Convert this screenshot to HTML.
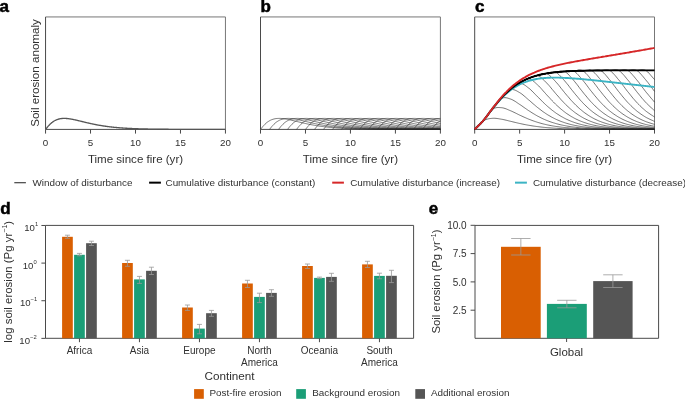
<!DOCTYPE html>
<html><head><meta charset="utf-8"><title>Figure</title>
<style>html,body{margin:0;padding:0;background:#fff;}svg{display:block;will-change:transform;}</style></head>
<body><svg width="685" height="399" viewBox="0 0 685 399">
<rect width="685" height="399" fill="#fff"/>
<path d="M45.55 16.95H225.45V129.4" fill="none" stroke="#777777" stroke-width="1"/>
<path d="M45.55 16.95V129.4H225.45" fill="none" stroke="#4a4a4a" stroke-width="1"/>
<line x1="45.55" y1="129.4" x2="45.55" y2="133.6" stroke="#4a4a4a" stroke-width="1"/>
<text x="45.55" y="145.7" font-size="9.8" text-anchor="middle" fill="#303030" font-family="Liberation Sans, sans-serif">0</text>
<line x1="90.52" y1="129.4" x2="90.52" y2="133.6" stroke="#4a4a4a" stroke-width="1"/>
<text x="90.52" y="145.7" font-size="9.8" text-anchor="middle" fill="#303030" font-family="Liberation Sans, sans-serif">5</text>
<line x1="135.50" y1="129.4" x2="135.50" y2="133.6" stroke="#4a4a4a" stroke-width="1"/>
<text x="135.50" y="145.7" font-size="9.8" text-anchor="middle" fill="#303030" font-family="Liberation Sans, sans-serif">10</text>
<line x1="180.47" y1="129.4" x2="180.47" y2="133.6" stroke="#4a4a4a" stroke-width="1"/>
<text x="180.47" y="145.7" font-size="9.8" text-anchor="middle" fill="#303030" font-family="Liberation Sans, sans-serif">15</text>
<line x1="225.45" y1="129.4" x2="225.45" y2="133.6" stroke="#4a4a4a" stroke-width="1"/>
<text x="225.45" y="145.7" font-size="9.8" text-anchor="middle" fill="#303030" font-family="Liberation Sans, sans-serif">20</text>
<text x="135.50" y="162.7" font-size="11.55" text-anchor="middle" fill="#303030" font-family="Liberation Sans, sans-serif">Time since fire (yr)</text>
<text x="-0.6" y="11.7" font-size="17" font-weight="bold" fill="#000" stroke="#000" stroke-width="0.5" font-family="Liberation Sans, sans-serif">a</text>
<path d="M45.55 129.40L46.0 128.90L46.4 128.34L46.9 127.77L47.3 127.22L47.8 126.67L48.2 126.14L48.7 125.63L49.1 125.14L49.6 124.66L50.0 124.21L50.5 123.78L50.9 123.36L51.4 122.97L51.8 122.60L52.3 122.24L52.7 121.91L53.2 121.59L53.6 121.30L54.1 121.02L54.5 120.75L55.0 120.51L55.4 120.28L55.9 120.07L56.3 119.87L56.8 119.69L57.2 119.52L57.7 119.36L58.1 119.22L58.6 119.10L59.0 118.98L59.5 118.88L59.9 118.78L60.4 118.70L60.8 118.63L61.3 118.57L61.7 118.52L62.2 118.48L62.6 118.45L63.1 118.42L63.5 118.41L64.0 118.40L64.4 118.40L64.9 118.41L65.3 118.42L65.8 118.44L66.2 118.47L66.7 118.50L67.1 118.54L67.6 118.58L68.0 118.63L68.5 118.69L68.9 118.74L69.4 118.81L69.8 118.87L70.3 118.94L70.7 119.02L71.2 119.09L71.6 119.17L72.1 119.26L72.5 119.34L73.0 119.43L73.4 119.52L73.9 119.61L74.3 119.71L74.8 119.81L75.2 119.90L75.7 120.00L76.1 120.11L76.6 120.21L77.0 120.31L77.5 120.42L77.9 120.52L78.4 120.63L78.8 120.74L79.3 120.85L79.7 120.95L80.2 121.06L80.6 121.17L81.1 121.28L81.5 121.39L82.0 121.50L82.4 121.61L82.9 121.72L83.3 121.83L83.8 121.94L84.2 122.05L84.7 122.16L85.1 122.26L85.6 122.37L86.0 122.48L86.5 122.58L86.9 122.69L87.4 122.80L87.8 122.90L88.3 123.00L88.7 123.11L89.2 123.21L89.6 123.31L90.1 123.41L90.5 123.51L91.0 123.61L91.4 123.71L91.9 123.80L92.3 123.90L92.8 124.00L93.2 124.09L93.7 124.18L94.1 124.27L94.6 124.37L95.0 124.46L95.5 124.54L95.9 124.63L96.4 124.72L96.8 124.80L97.3 124.89L97.7 124.97L98.2 125.05L98.6 125.14L99.1 125.22L99.5 125.29L100.0 125.37L100.4 125.45L100.9 125.52L101.3 125.60L101.8 125.67L102.2 125.74L102.7 125.82L103.1 125.89L103.6 125.96L104.0 126.02L104.5 126.09L104.9 126.16L105.4 126.22L105.8 126.28L106.3 126.35L106.7 126.41L107.2 126.47L107.6 126.53L108.1 126.59L108.5 126.65L109.0 126.70L109.4 126.76L109.9 126.81L110.3 126.87L110.8 126.92L111.2 126.97L111.7 127.02L112.1 127.07L112.6 127.12L113.0 127.17L113.5 127.22L113.9 127.27L114.4 127.31L114.8 127.36L115.3 127.40L115.7 127.44L116.2 127.49L116.6 127.53L117.1 127.57L117.5 127.61L118.0 127.65L118.4 127.69L118.9 127.72L119.3 127.76L119.8 127.80L120.2 127.83L120.7 127.87L121.1 127.90L121.6 127.94L122.0 127.97L122.5 128.00L122.9 128.03L123.4 128.06L123.8 128.09L124.3 128.12L124.7 128.15L125.2 128.18L125.6 128.21L126.1 128.24L126.5 128.26L127.0 128.29L127.4 128.32L127.9 128.34L128.3 128.37L128.8 128.39L129.2 128.41L129.7 128.44L130.1 128.46L130.6 128.48L131.0 128.50L131.5 128.52L131.9 128.54L132.4 128.56L132.8 128.58L133.3 128.60L133.7 128.62L134.2 128.64L134.6 128.66L135.1 128.68L135.5 128.69L135.9 128.71L136.4 128.73L136.8 128.74L137.3 128.76L137.7 128.78L138.2 128.79L138.6 128.81L139.1 128.82L139.5 128.83L140.0 128.85L140.4 128.86L140.9 128.87L141.3 128.89L141.8 128.90L142.2 128.91L142.7 128.92L143.1 128.94L143.6 128.95L144.0 128.96L144.5 128.97L144.9 128.98L145.4 128.99L145.8 129.00L146.3 129.01L146.7 129.02L147.2 129.03L147.6 129.04L148.1 129.05L148.5 129.06L149.0 129.07L149.4 129.08L149.9 129.08L150.3 129.09L150.8 129.10L151.2 129.11L151.7 129.11L152.1 129.12L152.6 129.13L153.0 129.14L153.5 129.14L153.9 129.15L154.4 129.16L154.8 129.16L155.3 129.17L155.7 129.17L156.2 129.18L156.6 129.19L157.1 129.19L157.5 129.20L158.0 129.20L158.4 129.21L158.9 129.21L159.3 129.22L159.8 129.22L160.2 129.23L160.7 129.23L161.1 129.24L161.6 129.24L162.0 129.24L162.5 129.25L162.9 129.25L163.4 129.26L163.8 129.26L164.3 129.26L164.7 129.27L165.2 129.27L165.6 129.27L166.1 129.28L166.5 129.28L167.0 129.28L167.4 129.29L167.9 129.29L168.3 129.29L168.8 129.30L169.2 129.30L169.7 129.30L170.1 129.30L170.6 129.31L171.0 129.31L171.5 129.31L171.9 129.31L172.4 129.32L172.8 129.32L173.3 129.32L173.7 129.32L174.2 129.33L174.6 129.33L175.1 129.33L175.5 129.33L176.0 129.33L176.4 129.33L176.9 129.34L177.3 129.34L177.8 129.34L178.2 129.34L178.7 129.34L179.1 129.34L179.6 129.35L180.0 129.35L180.5 129.35L180.9 129.35L181.4 129.35L181.8 129.35L182.3 129.35L182.7 129.36L183.2 129.36L183.6 129.36L184.1 129.36L184.5 129.36L185.0 129.36L185.4 129.36L185.9 129.36L186.3 129.36L186.8 129.37L187.2 129.37L187.7 129.37L188.1 129.37L188.6 129.37L189.0 129.37L189.5 129.37L189.9 129.37L190.4 129.37L190.8 129.37L191.3 129.37L191.7 129.38L192.2 129.38L192.6 129.38L193.1 129.38L193.5 129.38L194.0 129.38L194.4 129.38L194.9 129.38L195.3 129.38L195.8 129.38L196.2 129.38L196.7 129.38L197.1 129.38L197.6 129.38L198.0 129.38L198.5 129.38L198.9 129.38L199.4 129.38L199.8 129.39L200.3 129.39L200.7 129.39L201.2 129.39L201.6 129.39L202.1 129.39L202.5 129.39L203.0 129.39L203.4 129.39L203.9 129.39L204.3 129.39L204.8 129.39L205.2 129.39L205.7 129.39L206.1 129.39L206.6 129.39L207.0 129.39L207.5 129.39L207.9 129.39L208.4 129.39L208.8 129.39L209.3 129.39L209.7 129.39L210.2 129.39L210.6 129.39L211.1 129.39L211.5 129.39L212.0 129.39L212.4 129.39L212.9 129.39L213.3 129.39L213.8 129.39L214.2 129.39L214.7 129.39L215.1 129.39L215.6 129.39L216.0 129.39L216.5 129.40L216.9 129.40L217.4 129.40L217.8 129.40L218.3 129.40L218.7 129.40L219.2 129.40L219.6 129.40L220.1 129.40L220.5 129.40L221.0 129.40L221.4 129.40L221.9 129.40L222.3 129.40L222.8 129.40L223.2 129.40L223.7 129.40L224.1 129.40L224.6 129.40L225.0 129.40L225.4 129.40" fill="none" stroke="#555" stroke-width="1.35" stroke-linejoin="round"/>
<text transform="translate(38.6 73.0) rotate(-90)" x="0" y="0" font-size="11.6" text-anchor="middle" fill="#303030" font-family="Liberation Sans, sans-serif">Soil erosion anomaly</text>
<path d="M260.50 16.95H440.40V129.4" fill="none" stroke="#777777" stroke-width="1"/>
<path d="M260.50 16.95V129.4H440.40" fill="none" stroke="#4a4a4a" stroke-width="1"/>
<line x1="260.50" y1="129.4" x2="260.50" y2="133.6" stroke="#4a4a4a" stroke-width="1"/>
<text x="260.50" y="145.7" font-size="9.8" text-anchor="middle" fill="#303030" font-family="Liberation Sans, sans-serif">0</text>
<line x1="305.48" y1="129.4" x2="305.48" y2="133.6" stroke="#4a4a4a" stroke-width="1"/>
<text x="305.48" y="145.7" font-size="9.8" text-anchor="middle" fill="#303030" font-family="Liberation Sans, sans-serif">5</text>
<line x1="350.45" y1="129.4" x2="350.45" y2="133.6" stroke="#4a4a4a" stroke-width="1"/>
<text x="350.45" y="145.7" font-size="9.8" text-anchor="middle" fill="#303030" font-family="Liberation Sans, sans-serif">10</text>
<line x1="395.42" y1="129.4" x2="395.42" y2="133.6" stroke="#4a4a4a" stroke-width="1"/>
<text x="395.42" y="145.7" font-size="9.8" text-anchor="middle" fill="#303030" font-family="Liberation Sans, sans-serif">15</text>
<line x1="440.40" y1="129.4" x2="440.40" y2="133.6" stroke="#4a4a4a" stroke-width="1"/>
<text x="440.40" y="145.7" font-size="9.8" text-anchor="middle" fill="#303030" font-family="Liberation Sans, sans-serif">20</text>
<text x="350.45" y="162.7" font-size="11.55" text-anchor="middle" fill="#303030" font-family="Liberation Sans, sans-serif">Time since fire (yr)</text>
<text x="260.4" y="11.7" font-size="17" font-weight="bold" fill="#000" stroke="#000" stroke-width="0.5" font-family="Liberation Sans, sans-serif">b</text>
<path d="M260.50 129.40L261.6 128.06L262.7 126.67L263.9 125.38L265.0 124.21L266.1 123.16L267.2 122.24L268.4 121.44L269.5 120.75L270.6 120.17L271.7 119.69L272.9 119.29L274.0 118.98L275.1 118.74L276.2 118.57L277.4 118.46L278.5 118.41L279.6 118.40L280.7 118.44L281.9 118.52L283.0 118.63L284.1 118.77L285.2 118.94L286.4 119.13L287.5 119.34L288.6 119.57L289.7 119.81L290.9 120.05L292.0 120.31L293.1 120.58L294.2 120.85L295.4 121.12L296.5 121.39L297.6 121.67L298.7 121.94L299.9 122.21L301.0 122.48L302.1 122.74L303.2 123.00L304.4 123.26L305.5 123.51L306.6 123.76L307.7 124.00L308.8 124.23L310.0 124.46L311.1 124.68L312.2 124.89L313.3 125.09L314.5 125.29L315.6 125.49L316.7 125.67L317.8 125.85L319.0 126.02L320.1 126.19L321.2 126.35L322.3 126.50L323.5 126.65L324.6 126.79L325.7 126.92L326.8 127.05L328.0 127.17L329.1 127.29L330.2 127.40L331.3 127.51L332.5 127.61L333.6 127.71L334.7 127.80L335.8 127.89L337.0 127.97L338.1 128.05L339.2 128.12L340.3 128.20L341.5 128.26L342.6 128.33L343.7 128.39L344.8 128.45L346.0 128.50L347.1 128.55L348.2 128.60L349.3 128.65L350.4 128.69L351.6 128.74L352.7 128.78L353.8 128.81L354.9 128.85L356.1 128.88L357.2 128.91L358.3 128.94L359.4 128.97L360.6 129.00L361.7 129.02L362.8 129.04L363.9 129.07L365.1 129.09L366.2 129.11L367.3 129.13L368.4 129.14L369.6 129.16L370.7 129.17L371.8 129.19L372.9 129.20L374.1 129.21L375.2 129.23L376.3 129.24L377.4 129.25L378.6 129.26L379.7 129.27L380.8 129.28L381.9 129.28L383.1 129.29L384.2 129.30L385.3 129.31L386.4 129.31L387.6 129.32L388.7 129.32L389.8 129.33L390.9 129.33L392.1 129.34L393.2 129.34L394.3 129.35L395.4 129.35L396.5 129.35L397.7 129.36L398.8 129.36L399.9 129.36L401.0 129.36L402.2 129.37L403.3 129.37L404.4 129.37L405.5 129.37L406.7 129.38L407.8 129.38L408.9 129.38L410.0 129.38L411.2 129.38L412.3 129.38L413.4 129.38L414.5 129.39L415.7 129.39L416.8 129.39L417.9 129.39L419.0 129.39L420.2 129.39L421.3 129.39L422.4 129.39L423.5 129.39L424.7 129.39L425.8 129.39L426.9 129.39L428.0 129.39L429.2 129.39L430.3 129.39L431.4 129.40L432.5 129.40L433.7 129.40L434.8 129.40L435.9 129.40L437.0 129.40L438.2 129.40L439.3 129.40L440.4 129.40" fill="none" stroke="#2a2a2a" stroke-width="0.62"/>
<path d="M269.50 129.40L270.6 128.06L271.7 126.67L272.9 125.38L274.0 124.21L275.1 123.16L276.2 122.24L277.4 121.44L278.5 120.75L279.6 120.17L280.7 119.69L281.9 119.29L283.0 118.98L284.1 118.74L285.2 118.57L286.4 118.46L287.5 118.41L288.6 118.40L289.7 118.44L290.9 118.52L292.0 118.63L293.1 118.77L294.2 118.94L295.4 119.13L296.5 119.34L297.6 119.57L298.7 119.81L299.9 120.05L301.0 120.31L302.1 120.58L303.2 120.85L304.4 121.12L305.5 121.39L306.6 121.67L307.7 121.94L308.8 122.21L310.0 122.48L311.1 122.74L312.2 123.00L313.3 123.26L314.5 123.51L315.6 123.76L316.7 124.00L317.8 124.23L319.0 124.46L320.1 124.68L321.2 124.89L322.3 125.09L323.5 125.29L324.6 125.49L325.7 125.67L326.8 125.85L328.0 126.02L329.1 126.19L330.2 126.35L331.3 126.50L332.5 126.65L333.6 126.79L334.7 126.92L335.8 127.05L337.0 127.17L338.1 127.29L339.2 127.40L340.3 127.51L341.5 127.61L342.6 127.71L343.7 127.80L344.8 127.89L346.0 127.97L347.1 128.05L348.2 128.12L349.3 128.20L350.4 128.26L351.6 128.33L352.7 128.39L353.8 128.45L354.9 128.50L356.1 128.55L357.2 128.60L358.3 128.65L359.4 128.69L360.6 128.74L361.7 128.78L362.8 128.81L363.9 128.85L365.1 128.88L366.2 128.91L367.3 128.94L368.4 128.97L369.6 129.00L370.7 129.02L371.8 129.04L372.9 129.07L374.1 129.09L375.2 129.11L376.3 129.13L377.4 129.14L378.6 129.16L379.7 129.17L380.8 129.19L381.9 129.20L383.1 129.21L384.2 129.23L385.3 129.24L386.4 129.25L387.6 129.26L388.7 129.27L389.8 129.28L390.9 129.28L392.1 129.29L393.2 129.30L394.3 129.31L395.4 129.31L396.5 129.32L397.7 129.32L398.8 129.33L399.9 129.33L401.0 129.34L402.2 129.34L403.3 129.35L404.4 129.35L405.5 129.35L406.7 129.36L407.8 129.36L408.9 129.36L410.0 129.36L411.2 129.37L412.3 129.37L413.4 129.37L414.5 129.37L415.7 129.38L416.8 129.38L417.9 129.38L419.0 129.38L420.2 129.38L421.3 129.38L422.4 129.38L423.5 129.39L424.7 129.39L425.8 129.39L426.9 129.39L428.0 129.39L429.2 129.39L430.3 129.39L431.4 129.39L432.5 129.39L433.7 129.39L434.8 129.39L435.9 129.39L437.0 129.39L438.2 129.39L439.3 129.39L440.4 129.40" fill="none" stroke="#2a2a2a" stroke-width="0.62"/>
<path d="M278.49 129.40L279.6 128.06L280.7 126.67L281.9 125.38L283.0 124.21L284.1 123.16L285.2 122.24L286.4 121.44L287.5 120.75L288.6 120.17L289.7 119.69L290.9 119.29L292.0 118.98L293.1 118.74L294.2 118.57L295.4 118.46L296.5 118.41L297.6 118.40L298.7 118.44L299.9 118.52L301.0 118.63L302.1 118.77L303.2 118.94L304.4 119.13L305.5 119.34L306.6 119.57L307.7 119.81L308.8 120.05L310.0 120.31L311.1 120.58L312.2 120.85L313.3 121.12L314.5 121.39L315.6 121.67L316.7 121.94L317.8 122.21L319.0 122.48L320.1 122.74L321.2 123.00L322.3 123.26L323.5 123.51L324.6 123.76L325.7 124.00L326.8 124.23L328.0 124.46L329.1 124.68L330.2 124.89L331.3 125.09L332.5 125.29L333.6 125.49L334.7 125.67L335.8 125.85L337.0 126.02L338.1 126.19L339.2 126.35L340.3 126.50L341.5 126.65L342.6 126.79L343.7 126.92L344.8 127.05L346.0 127.17L347.1 127.29L348.2 127.40L349.3 127.51L350.4 127.61L351.6 127.71L352.7 127.80L353.8 127.89L354.9 127.97L356.1 128.05L357.2 128.12L358.3 128.20L359.4 128.26L360.6 128.33L361.7 128.39L362.8 128.45L363.9 128.50L365.1 128.55L366.2 128.60L367.3 128.65L368.4 128.69L369.6 128.74L370.7 128.78L371.8 128.81L372.9 128.85L374.1 128.88L375.2 128.91L376.3 128.94L377.4 128.97L378.6 129.00L379.7 129.02L380.8 129.04L381.9 129.07L383.1 129.09L384.2 129.11L385.3 129.13L386.4 129.14L387.6 129.16L388.7 129.17L389.8 129.19L390.9 129.20L392.1 129.21L393.2 129.23L394.3 129.24L395.4 129.25L396.5 129.26L397.7 129.27L398.8 129.28L399.9 129.28L401.0 129.29L402.2 129.30L403.3 129.31L404.4 129.31L405.5 129.32L406.7 129.32L407.8 129.33L408.9 129.33L410.0 129.34L411.2 129.34L412.3 129.35L413.4 129.35L414.5 129.35L415.7 129.36L416.8 129.36L417.9 129.36L419.0 129.36L420.2 129.37L421.3 129.37L422.4 129.37L423.5 129.37L424.7 129.38L425.8 129.38L426.9 129.38L428.0 129.38L429.2 129.38L430.3 129.38L431.4 129.38L432.5 129.39L433.7 129.39L434.8 129.39L435.9 129.39L437.0 129.39L438.2 129.39L439.3 129.39L440.4 129.39" fill="none" stroke="#2a2a2a" stroke-width="0.62"/>
<path d="M287.49 129.40L288.6 128.06L289.7 126.67L290.9 125.38L292.0 124.21L293.1 123.16L294.2 122.24L295.4 121.44L296.5 120.75L297.6 120.17L298.7 119.69L299.9 119.29L301.0 118.98L302.1 118.74L303.2 118.57L304.4 118.46L305.5 118.41L306.6 118.40L307.7 118.44L308.8 118.52L310.0 118.63L311.1 118.77L312.2 118.94L313.3 119.13L314.5 119.34L315.6 119.57L316.7 119.81L317.8 120.05L319.0 120.31L320.1 120.58L321.2 120.85L322.3 121.12L323.5 121.39L324.6 121.67L325.7 121.94L326.8 122.21L328.0 122.48L329.1 122.74L330.2 123.00L331.3 123.26L332.5 123.51L333.6 123.76L334.7 124.00L335.8 124.23L337.0 124.46L338.1 124.68L339.2 124.89L340.3 125.09L341.5 125.29L342.6 125.49L343.7 125.67L344.8 125.85L346.0 126.02L347.1 126.19L348.2 126.35L349.3 126.50L350.4 126.65L351.6 126.79L352.7 126.92L353.8 127.05L354.9 127.17L356.1 127.29L357.2 127.40L358.3 127.51L359.4 127.61L360.6 127.71L361.7 127.80L362.8 127.89L363.9 127.97L365.1 128.05L366.2 128.12L367.3 128.20L368.4 128.26L369.6 128.33L370.7 128.39L371.8 128.45L372.9 128.50L374.1 128.55L375.2 128.60L376.3 128.65L377.4 128.69L378.6 128.74L379.7 128.78L380.8 128.81L381.9 128.85L383.1 128.88L384.2 128.91L385.3 128.94L386.4 128.97L387.6 129.00L388.7 129.02L389.8 129.04L390.9 129.07L392.1 129.09L393.2 129.11L394.3 129.13L395.4 129.14L396.5 129.16L397.7 129.17L398.8 129.19L399.9 129.20L401.0 129.21L402.2 129.23L403.3 129.24L404.4 129.25L405.5 129.26L406.7 129.27L407.8 129.28L408.9 129.28L410.0 129.29L411.2 129.30L412.3 129.31L413.4 129.31L414.5 129.32L415.7 129.32L416.8 129.33L417.9 129.33L419.0 129.34L420.2 129.34L421.3 129.35L422.4 129.35L423.5 129.35L424.7 129.36L425.8 129.36L426.9 129.36L428.0 129.36L429.2 129.37L430.3 129.37L431.4 129.37L432.5 129.37L433.7 129.38L434.8 129.38L435.9 129.38L437.0 129.38L438.2 129.38L439.3 129.38L440.4 129.38" fill="none" stroke="#2a2a2a" stroke-width="0.62"/>
<path d="M296.48 129.40L297.6 128.06L298.7 126.67L299.9 125.38L301.0 124.21L302.1 123.16L303.2 122.24L304.4 121.44L305.5 120.75L306.6 120.17L307.7 119.69L308.8 119.29L310.0 118.98L311.1 118.74L312.2 118.57L313.3 118.46L314.5 118.41L315.6 118.40L316.7 118.44L317.8 118.52L319.0 118.63L320.1 118.77L321.2 118.94L322.3 119.13L323.5 119.34L324.6 119.57L325.7 119.81L326.8 120.05L328.0 120.31L329.1 120.58L330.2 120.85L331.3 121.12L332.5 121.39L333.6 121.67L334.7 121.94L335.8 122.21L337.0 122.48L338.1 122.74L339.2 123.00L340.3 123.26L341.5 123.51L342.6 123.76L343.7 124.00L344.8 124.23L346.0 124.46L347.1 124.68L348.2 124.89L349.3 125.09L350.4 125.29L351.6 125.49L352.7 125.67L353.8 125.85L354.9 126.02L356.1 126.19L357.2 126.35L358.3 126.50L359.4 126.65L360.6 126.79L361.7 126.92L362.8 127.05L363.9 127.17L365.1 127.29L366.2 127.40L367.3 127.51L368.4 127.61L369.6 127.71L370.7 127.80L371.8 127.89L372.9 127.97L374.1 128.05L375.2 128.12L376.3 128.20L377.4 128.26L378.6 128.33L379.7 128.39L380.8 128.45L381.9 128.50L383.1 128.55L384.2 128.60L385.3 128.65L386.4 128.69L387.6 128.74L388.7 128.78L389.8 128.81L390.9 128.85L392.1 128.88L393.2 128.91L394.3 128.94L395.4 128.97L396.5 129.00L397.7 129.02L398.8 129.04L399.9 129.07L401.0 129.09L402.2 129.11L403.3 129.13L404.4 129.14L405.5 129.16L406.7 129.17L407.8 129.19L408.9 129.20L410.0 129.21L411.2 129.23L412.3 129.24L413.4 129.25L414.5 129.26L415.7 129.27L416.8 129.28L417.9 129.28L419.0 129.29L420.2 129.30L421.3 129.31L422.4 129.31L423.5 129.32L424.7 129.32L425.8 129.33L426.9 129.33L428.0 129.34L429.2 129.34L430.3 129.35L431.4 129.35L432.5 129.35L433.7 129.36L434.8 129.36L435.9 129.36L437.0 129.36L438.2 129.37L439.3 129.37L440.4 129.37" fill="none" stroke="#2a2a2a" stroke-width="0.62"/>
<path d="M305.48 129.40L306.6 128.06L307.7 126.67L308.8 125.38L310.0 124.21L311.1 123.16L312.2 122.24L313.3 121.44L314.5 120.75L315.6 120.17L316.7 119.69L317.8 119.29L319.0 118.98L320.1 118.74L321.2 118.57L322.3 118.46L323.5 118.41L324.6 118.40L325.7 118.44L326.8 118.52L328.0 118.63L329.1 118.77L330.2 118.94L331.3 119.13L332.5 119.34L333.6 119.57L334.7 119.81L335.8 120.05L337.0 120.31L338.1 120.58L339.2 120.85L340.3 121.12L341.5 121.39L342.6 121.67L343.7 121.94L344.8 122.21L346.0 122.48L347.1 122.74L348.2 123.00L349.3 123.26L350.4 123.51L351.6 123.76L352.7 124.00L353.8 124.23L354.9 124.46L356.1 124.68L357.2 124.89L358.3 125.09L359.4 125.29L360.6 125.49L361.7 125.67L362.8 125.85L363.9 126.02L365.1 126.19L366.2 126.35L367.3 126.50L368.4 126.65L369.6 126.79L370.7 126.92L371.8 127.05L372.9 127.17L374.1 127.29L375.2 127.40L376.3 127.51L377.4 127.61L378.6 127.71L379.7 127.80L380.8 127.89L381.9 127.97L383.1 128.05L384.2 128.12L385.3 128.20L386.4 128.26L387.6 128.33L388.7 128.39L389.8 128.45L390.9 128.50L392.1 128.55L393.2 128.60L394.3 128.65L395.4 128.69L396.5 128.74L397.7 128.78L398.8 128.81L399.9 128.85L401.0 128.88L402.2 128.91L403.3 128.94L404.4 128.97L405.5 129.00L406.7 129.02L407.8 129.04L408.9 129.07L410.0 129.09L411.2 129.11L412.3 129.13L413.4 129.14L414.5 129.16L415.7 129.17L416.8 129.19L417.9 129.20L419.0 129.21L420.2 129.23L421.3 129.24L422.4 129.25L423.5 129.26L424.7 129.27L425.8 129.28L426.9 129.28L428.0 129.29L429.2 129.30L430.3 129.31L431.4 129.31L432.5 129.32L433.7 129.32L434.8 129.33L435.9 129.33L437.0 129.34L438.2 129.34L439.3 129.35L440.4 129.35" fill="none" stroke="#2a2a2a" stroke-width="0.62"/>
<path d="M314.47 129.40L315.6 128.06L316.7 126.67L317.8 125.38L319.0 124.21L320.1 123.16L321.2 122.24L322.3 121.44L323.5 120.75L324.6 120.17L325.7 119.69L326.8 119.29L328.0 118.98L329.1 118.74L330.2 118.57L331.3 118.46L332.5 118.41L333.6 118.40L334.7 118.44L335.8 118.52L337.0 118.63L338.1 118.77L339.2 118.94L340.3 119.13L341.5 119.34L342.6 119.57L343.7 119.81L344.8 120.05L346.0 120.31L347.1 120.58L348.2 120.85L349.3 121.12L350.4 121.39L351.6 121.67L352.7 121.94L353.8 122.21L354.9 122.48L356.1 122.74L357.2 123.00L358.3 123.26L359.4 123.51L360.6 123.76L361.7 124.00L362.8 124.23L363.9 124.46L365.1 124.68L366.2 124.89L367.3 125.09L368.4 125.29L369.6 125.49L370.7 125.67L371.8 125.85L372.9 126.02L374.1 126.19L375.2 126.35L376.3 126.50L377.4 126.65L378.6 126.79L379.7 126.92L380.8 127.05L381.9 127.17L383.1 127.29L384.2 127.40L385.3 127.51L386.4 127.61L387.6 127.71L388.7 127.80L389.8 127.89L390.9 127.97L392.1 128.05L393.2 128.12L394.3 128.20L395.4 128.26L396.5 128.33L397.7 128.39L398.8 128.45L399.9 128.50L401.0 128.55L402.2 128.60L403.3 128.65L404.4 128.69L405.5 128.74L406.7 128.78L407.8 128.81L408.9 128.85L410.0 128.88L411.2 128.91L412.3 128.94L413.4 128.97L414.5 129.00L415.7 129.02L416.8 129.04L417.9 129.07L419.0 129.09L420.2 129.11L421.3 129.13L422.4 129.14L423.5 129.16L424.7 129.17L425.8 129.19L426.9 129.20L428.0 129.21L429.2 129.23L430.3 129.24L431.4 129.25L432.5 129.26L433.7 129.27L434.8 129.28L435.9 129.28L437.0 129.29L438.2 129.30L439.3 129.31L440.4 129.31" fill="none" stroke="#2a2a2a" stroke-width="0.62"/>
<path d="M323.46 129.40L324.6 128.06L325.7 126.67L326.8 125.38L328.0 124.21L329.1 123.16L330.2 122.24L331.3 121.44L332.5 120.75L333.6 120.17L334.7 119.69L335.8 119.29L337.0 118.98L338.1 118.74L339.2 118.57L340.3 118.46L341.5 118.41L342.6 118.40L343.7 118.44L344.8 118.52L346.0 118.63L347.1 118.77L348.2 118.94L349.3 119.13L350.4 119.34L351.6 119.57L352.7 119.81L353.8 120.05L354.9 120.31L356.1 120.58L357.2 120.85L358.3 121.12L359.4 121.39L360.6 121.67L361.7 121.94L362.8 122.21L363.9 122.48L365.1 122.74L366.2 123.00L367.3 123.26L368.4 123.51L369.6 123.76L370.7 124.00L371.8 124.23L372.9 124.46L374.1 124.68L375.2 124.89L376.3 125.09L377.4 125.29L378.6 125.49L379.7 125.67L380.8 125.85L381.9 126.02L383.1 126.19L384.2 126.35L385.3 126.50L386.4 126.65L387.6 126.79L388.7 126.92L389.8 127.05L390.9 127.17L392.1 127.29L393.2 127.40L394.3 127.51L395.4 127.61L396.5 127.71L397.7 127.80L398.8 127.89L399.9 127.97L401.0 128.05L402.2 128.12L403.3 128.20L404.4 128.26L405.5 128.33L406.7 128.39L407.8 128.45L408.9 128.50L410.0 128.55L411.2 128.60L412.3 128.65L413.4 128.69L414.5 128.74L415.7 128.78L416.8 128.81L417.9 128.85L419.0 128.88L420.2 128.91L421.3 128.94L422.4 128.97L423.5 129.00L424.7 129.02L425.8 129.04L426.9 129.07L428.0 129.09L429.2 129.11L430.3 129.13L431.4 129.14L432.5 129.16L433.7 129.17L434.8 129.19L435.9 129.20L437.0 129.21L438.2 129.23L439.3 129.24L440.4 129.25" fill="none" stroke="#2a2a2a" stroke-width="0.62"/>
<path d="M332.46 129.40L333.6 128.06L334.7 126.67L335.8 125.38L337.0 124.21L338.1 123.16L339.2 122.24L340.3 121.44L341.5 120.75L342.6 120.17L343.7 119.69L344.8 119.29L346.0 118.98L347.1 118.74L348.2 118.57L349.3 118.46L350.4 118.41L351.6 118.40L352.7 118.44L353.8 118.52L354.9 118.63L356.1 118.77L357.2 118.94L358.3 119.13L359.4 119.34L360.6 119.57L361.7 119.81L362.8 120.05L363.9 120.31L365.1 120.58L366.2 120.85L367.3 121.12L368.4 121.39L369.6 121.67L370.7 121.94L371.8 122.21L372.9 122.48L374.1 122.74L375.2 123.00L376.3 123.26L377.4 123.51L378.6 123.76L379.7 124.00L380.8 124.23L381.9 124.46L383.1 124.68L384.2 124.89L385.3 125.09L386.4 125.29L387.6 125.49L388.7 125.67L389.8 125.85L390.9 126.02L392.1 126.19L393.2 126.35L394.3 126.50L395.4 126.65L396.5 126.79L397.7 126.92L398.8 127.05L399.9 127.17L401.0 127.29L402.2 127.40L403.3 127.51L404.4 127.61L405.5 127.71L406.7 127.80L407.8 127.89L408.9 127.97L410.0 128.05L411.2 128.12L412.3 128.20L413.4 128.26L414.5 128.33L415.7 128.39L416.8 128.45L417.9 128.50L419.0 128.55L420.2 128.60L421.3 128.65L422.4 128.69L423.5 128.74L424.7 128.78L425.8 128.81L426.9 128.85L428.0 128.88L429.2 128.91L430.3 128.94L431.4 128.97L432.5 129.00L433.7 129.02L434.8 129.04L435.9 129.07L437.0 129.09L438.2 129.11L439.3 129.13L440.4 129.14" fill="none" stroke="#2a2a2a" stroke-width="0.62"/>
<path d="M341.45 129.40L342.6 128.06L343.7 126.67L344.8 125.38L346.0 124.21L347.1 123.16L348.2 122.24L349.3 121.44L350.4 120.75L351.6 120.17L352.7 119.69L353.8 119.29L354.9 118.98L356.1 118.74L357.2 118.57L358.3 118.46L359.4 118.41L360.6 118.40L361.7 118.44L362.8 118.52L363.9 118.63L365.1 118.77L366.2 118.94L367.3 119.13L368.4 119.34L369.6 119.57L370.7 119.81L371.8 120.05L372.9 120.31L374.1 120.58L375.2 120.85L376.3 121.12L377.4 121.39L378.6 121.67L379.7 121.94L380.8 122.21L381.9 122.48L383.1 122.74L384.2 123.00L385.3 123.26L386.4 123.51L387.6 123.76L388.7 124.00L389.8 124.23L390.9 124.46L392.1 124.68L393.2 124.89L394.3 125.09L395.4 125.29L396.5 125.49L397.7 125.67L398.8 125.85L399.9 126.02L401.0 126.19L402.2 126.35L403.3 126.50L404.4 126.65L405.5 126.79L406.7 126.92L407.8 127.05L408.9 127.17L410.0 127.29L411.2 127.40L412.3 127.51L413.4 127.61L414.5 127.71L415.7 127.80L416.8 127.89L417.9 127.97L419.0 128.05L420.2 128.12L421.3 128.20L422.4 128.26L423.5 128.33L424.7 128.39L425.8 128.45L426.9 128.50L428.0 128.55L429.2 128.60L430.3 128.65L431.4 128.69L432.5 128.74L433.7 128.78L434.8 128.81L435.9 128.85L437.0 128.88L438.2 128.91L439.3 128.94L440.4 128.97" fill="none" stroke="#2a2a2a" stroke-width="0.62"/>
<path d="M350.45 129.40L351.6 128.06L352.7 126.67L353.8 125.38L354.9 124.21L356.1 123.16L357.2 122.24L358.3 121.44L359.4 120.75L360.6 120.17L361.7 119.69L362.8 119.29L363.9 118.98L365.1 118.74L366.2 118.57L367.3 118.46L368.4 118.41L369.6 118.40L370.7 118.44L371.8 118.52L372.9 118.63L374.1 118.77L375.2 118.94L376.3 119.13L377.4 119.34L378.6 119.57L379.7 119.81L380.8 120.05L381.9 120.31L383.1 120.58L384.2 120.85L385.3 121.12L386.4 121.39L387.6 121.67L388.7 121.94L389.8 122.21L390.9 122.48L392.1 122.74L393.2 123.00L394.3 123.26L395.4 123.51L396.5 123.76L397.7 124.00L398.8 124.23L399.9 124.46L401.0 124.68L402.2 124.89L403.3 125.09L404.4 125.29L405.5 125.49L406.7 125.67L407.8 125.85L408.9 126.02L410.0 126.19L411.2 126.35L412.3 126.50L413.4 126.65L414.5 126.79L415.7 126.92L416.8 127.05L417.9 127.17L419.0 127.29L420.2 127.40L421.3 127.51L422.4 127.61L423.5 127.71L424.7 127.80L425.8 127.89L426.9 127.97L428.0 128.05L429.2 128.12L430.3 128.20L431.4 128.26L432.5 128.33L433.7 128.39L434.8 128.45L435.9 128.50L437.0 128.55L438.2 128.60L439.3 128.65L440.4 128.69" fill="none" stroke="#2a2a2a" stroke-width="0.62"/>
<path d="M359.44 129.40L360.6 128.06L361.7 126.67L362.8 125.38L363.9 124.21L365.1 123.16L366.2 122.24L367.3 121.44L368.4 120.75L369.6 120.17L370.7 119.69L371.8 119.29L372.9 118.98L374.1 118.74L375.2 118.57L376.3 118.46L377.4 118.41L378.6 118.40L379.7 118.44L380.8 118.52L381.9 118.63L383.1 118.77L384.2 118.94L385.3 119.13L386.4 119.34L387.6 119.57L388.7 119.81L389.8 120.05L390.9 120.31L392.1 120.58L393.2 120.85L394.3 121.12L395.4 121.39L396.5 121.67L397.7 121.94L398.8 122.21L399.9 122.48L401.0 122.74L402.2 123.00L403.3 123.26L404.4 123.51L405.5 123.76L406.7 124.00L407.8 124.23L408.9 124.46L410.0 124.68L411.2 124.89L412.3 125.09L413.4 125.29L414.5 125.49L415.7 125.67L416.8 125.85L417.9 126.02L419.0 126.19L420.2 126.35L421.3 126.50L422.4 126.65L423.5 126.79L424.7 126.92L425.8 127.05L426.9 127.17L428.0 127.29L429.2 127.40L430.3 127.51L431.4 127.61L432.5 127.71L433.7 127.80L434.8 127.89L435.9 127.97L437.0 128.05L438.2 128.12L439.3 128.20L440.4 128.26" fill="none" stroke="#2a2a2a" stroke-width="0.62"/>
<path d="M368.44 129.40L369.6 128.06L370.7 126.67L371.8 125.38L372.9 124.21L374.1 123.16L375.2 122.24L376.3 121.44L377.4 120.75L378.6 120.17L379.7 119.69L380.8 119.29L381.9 118.98L383.1 118.74L384.2 118.57L385.3 118.46L386.4 118.41L387.6 118.40L388.7 118.44L389.8 118.52L390.9 118.63L392.1 118.77L393.2 118.94L394.3 119.13L395.4 119.34L396.5 119.57L397.7 119.81L398.8 120.05L399.9 120.31L401.0 120.58L402.2 120.85L403.3 121.12L404.4 121.39L405.5 121.67L406.7 121.94L407.8 122.21L408.9 122.48L410.0 122.74L411.2 123.00L412.3 123.26L413.4 123.51L414.5 123.76L415.7 124.00L416.8 124.23L417.9 124.46L419.0 124.68L420.2 124.89L421.3 125.09L422.4 125.29L423.5 125.49L424.7 125.67L425.8 125.85L426.9 126.02L428.0 126.19L429.2 126.35L430.3 126.50L431.4 126.65L432.5 126.79L433.7 126.92L434.8 127.05L435.9 127.17L437.0 127.29L438.2 127.40L439.3 127.51L440.4 127.61" fill="none" stroke="#2a2a2a" stroke-width="0.62"/>
<path d="M377.44 129.40L378.6 128.06L379.7 126.67L380.8 125.38L381.9 124.21L383.1 123.16L384.2 122.24L385.3 121.44L386.4 120.75L387.6 120.17L388.7 119.69L389.8 119.29L390.9 118.98L392.1 118.74L393.2 118.57L394.3 118.46L395.4 118.41L396.5 118.40L397.7 118.44L398.8 118.52L399.9 118.63L401.0 118.77L402.2 118.94L403.3 119.13L404.4 119.34L405.5 119.57L406.7 119.81L407.8 120.05L408.9 120.31L410.0 120.58L411.2 120.85L412.3 121.12L413.4 121.39L414.5 121.67L415.7 121.94L416.8 122.21L417.9 122.48L419.0 122.74L420.2 123.00L421.3 123.26L422.4 123.51L423.5 123.76L424.7 124.00L425.8 124.23L426.9 124.46L428.0 124.68L429.2 124.89L430.3 125.09L431.4 125.29L432.5 125.49L433.7 125.67L434.8 125.85L435.9 126.02L437.0 126.19L438.2 126.35L439.3 126.50L440.4 126.65" fill="none" stroke="#2a2a2a" stroke-width="0.62"/>
<path d="M386.43 129.40L387.6 128.06L388.7 126.67L389.8 125.38L390.9 124.21L392.1 123.16L393.2 122.24L394.3 121.44L395.4 120.75L396.5 120.17L397.7 119.69L398.8 119.29L399.9 118.98L401.0 118.74L402.2 118.57L403.3 118.46L404.4 118.41L405.5 118.40L406.7 118.44L407.8 118.52L408.9 118.63L410.0 118.77L411.2 118.94L412.3 119.13L413.4 119.34L414.5 119.57L415.7 119.81L416.8 120.05L417.9 120.31L419.0 120.58L420.2 120.85L421.3 121.12L422.4 121.39L423.5 121.67L424.7 121.94L425.8 122.21L426.9 122.48L428.0 122.74L429.2 123.00L430.3 123.26L431.4 123.51L432.5 123.76L433.7 124.00L434.8 124.23L435.9 124.46L437.0 124.68L438.2 124.89L439.3 125.09L440.4 125.29" fill="none" stroke="#2a2a2a" stroke-width="0.62"/>
<path d="M395.42 129.40L396.5 128.06L397.7 126.67L398.8 125.38L399.9 124.21L401.0 123.16L402.2 122.24L403.3 121.44L404.4 120.75L405.5 120.17L406.7 119.69L407.8 119.29L408.9 118.98L410.0 118.74L411.2 118.57L412.3 118.46L413.4 118.41L414.5 118.40L415.7 118.44L416.8 118.52L417.9 118.63L419.0 118.77L420.2 118.94L421.3 119.13L422.4 119.34L423.5 119.57L424.7 119.81L425.8 120.05L426.9 120.31L428.0 120.58L429.2 120.85L430.3 121.12L431.4 121.39L432.5 121.67L433.7 121.94L434.8 122.21L435.9 122.48L437.0 122.74L438.2 123.00L439.3 123.26L440.4 123.51" fill="none" stroke="#2a2a2a" stroke-width="0.62"/>
<path d="M404.42 129.40L405.5 128.06L406.7 126.67L407.8 125.38L408.9 124.21L410.0 123.16L411.2 122.24L412.3 121.44L413.4 120.75L414.5 120.17L415.7 119.69L416.8 119.29L417.9 118.98L419.0 118.74L420.2 118.57L421.3 118.46L422.4 118.41L423.5 118.40L424.7 118.44L425.8 118.52L426.9 118.63L428.0 118.77L429.2 118.94L430.3 119.13L431.4 119.34L432.5 119.57L433.7 119.81L434.8 120.05L435.9 120.31L437.0 120.58L438.2 120.85L439.3 121.12L440.4 121.39" fill="none" stroke="#2a2a2a" stroke-width="0.62"/>
<path d="M413.41 129.40L414.5 128.06L415.7 126.67L416.8 125.38L417.9 124.21L419.0 123.16L420.2 122.24L421.3 121.44L422.4 120.75L423.5 120.17L424.7 119.69L425.8 119.29L426.9 118.98L428.0 118.74L429.2 118.57L430.3 118.46L431.4 118.41L432.5 118.40L433.7 118.44L434.8 118.52L435.9 118.63L437.0 118.77L438.2 118.94L439.3 119.13L440.4 119.34" fill="none" stroke="#2a2a2a" stroke-width="0.62"/>
<path d="M422.41 129.40L423.5 128.06L424.7 126.67L425.8 125.38L426.9 124.21L428.0 123.16L429.2 122.24L430.3 121.44L431.4 120.75L432.5 120.17L433.7 119.69L434.8 119.29L435.9 118.98L437.0 118.74L438.2 118.57L439.3 118.46L440.4 118.41" fill="none" stroke="#2a2a2a" stroke-width="0.62"/>
<path d="M431.40 129.40L432.5 128.06L433.7 126.67L434.8 125.38L435.9 124.21L437.0 123.16L438.2 122.24L439.3 121.44L440.4 120.75" fill="none" stroke="#2a2a2a" stroke-width="0.62"/>
<path d="M474.70 16.95H654.50V129.4" fill="none" stroke="#777777" stroke-width="1"/>
<path d="M474.70 16.95V129.4H654.50" fill="none" stroke="#4a4a4a" stroke-width="1"/>
<line x1="474.70" y1="129.4" x2="474.70" y2="133.6" stroke="#4a4a4a" stroke-width="1"/>
<text x="474.70" y="145.7" font-size="9.8" text-anchor="middle" fill="#303030" font-family="Liberation Sans, sans-serif">0</text>
<line x1="519.65" y1="129.4" x2="519.65" y2="133.6" stroke="#4a4a4a" stroke-width="1"/>
<text x="519.65" y="145.7" font-size="9.8" text-anchor="middle" fill="#303030" font-family="Liberation Sans, sans-serif">5</text>
<line x1="564.60" y1="129.4" x2="564.60" y2="133.6" stroke="#4a4a4a" stroke-width="1"/>
<text x="564.60" y="145.7" font-size="9.8" text-anchor="middle" fill="#303030" font-family="Liberation Sans, sans-serif">10</text>
<line x1="609.55" y1="129.4" x2="609.55" y2="133.6" stroke="#4a4a4a" stroke-width="1"/>
<text x="609.55" y="145.7" font-size="9.8" text-anchor="middle" fill="#303030" font-family="Liberation Sans, sans-serif">15</text>
<line x1="654.50" y1="129.4" x2="654.50" y2="133.6" stroke="#4a4a4a" stroke-width="1"/>
<text x="654.50" y="145.7" font-size="9.8" text-anchor="middle" fill="#303030" font-family="Liberation Sans, sans-serif">20</text>
<text x="564.60" y="162.7" font-size="11.55" text-anchor="middle" fill="#303030" font-family="Liberation Sans, sans-serif">Time since fire (yr)</text>
<text x="474.9" y="11.7" font-size="17" font-weight="bold" fill="#000" stroke="#000" stroke-width="0.5" font-family="Liberation Sans, sans-serif">c</text>
<path d="M474.70 129.40L475.8 128.27L476.9 127.07L478.1 125.85L479.2 124.64L480.3 123.48L481.4 122.41L482.6 121.46L483.7 120.68L484.8 120.05L485.9 119.56L487.1 119.18L488.2 118.89L489.3 118.67L490.4 118.52L491.6 118.40L492.7 118.31L493.8 118.26L494.9 118.28L496.1 118.37L497.2 118.50L498.3 118.67L499.4 118.86L500.5 119.06L501.7 119.25L502.8 119.45L503.9 119.69L505.0 119.94L506.2 120.21L507.3 120.49L508.4 120.77L509.5 121.05L510.7 121.32L511.8 121.58L512.9 121.86L514.0 122.13L515.2 122.41L516.3 122.68L517.4 122.95L518.5 123.21L519.6 123.46L520.8 123.70L521.9 123.94L523.0 124.18L524.1 124.41L525.3 124.63L526.4 124.85L527.5 125.05L528.6 125.26L529.8 125.45L530.9 125.64L532.0 125.82L533.1 125.99L534.3 126.16L535.4 126.32L536.5 126.47L537.6 126.62L538.8 126.76L539.9 126.90L541.0 127.03L542.1 127.15L543.2 127.27L544.4 127.38L545.5 127.49L546.6 127.59L547.7 127.69L548.9 127.79L550.0 127.87L551.1 127.96L552.2 128.04L553.4 128.11L554.5 128.18L555.6 128.25L556.7 128.32L557.9 128.38L559.0 128.44L560.1 128.49L561.2 128.55L562.4 128.60L563.5 128.64L564.6 128.69L565.7 128.73L566.8 128.77L568.0 128.81L569.1 128.84L570.2 128.88L571.3 128.91L572.5 128.94L573.6 128.97L574.7 128.99L575.8 129.02L577.0 129.04L578.1 129.06L579.2 129.08L580.3 129.10L581.5 129.12L582.6 129.14L583.7 129.16L584.8 129.17L586.0 129.19L587.1 129.20L588.2 129.21L589.3 129.22L590.4 129.24L591.6 129.25L592.7 129.26L593.8 129.27L594.9 129.27L596.1 129.28L597.2 129.29L598.3 129.30L599.4 129.30L600.6 129.31L601.7 129.32L602.8 129.32L603.9 129.33L605.1 129.33L606.2 129.34L607.3 129.34L608.4 129.34L609.5 129.35L610.7 129.35L611.8 129.36L612.9 129.36L614.0 129.36L615.2 129.36L616.3 129.37L617.4 129.37L618.5 129.37L619.7 129.37L620.8 129.37L621.9 129.38L623.0 129.38L624.2 129.38L625.3 129.38L626.4 129.38L627.5 129.38L628.7 129.38L629.8 129.39L630.9 129.39L632.0 129.39L633.1 129.39L634.3 129.39L635.4 129.39L636.5 129.39L637.6 129.39L638.8 129.39L639.9 129.39L641.0 129.39L642.1 129.39L643.3 129.39L644.4 129.39L645.5 129.40L646.6 129.40L647.8 129.40L648.9 129.40L650.0 129.40L651.1 129.40L652.3 129.40L653.4 129.40L654.5 129.40" fill="none" stroke="#222" stroke-width="0.62"/>
<path d="M474.70 129.40L475.8 128.30L476.9 127.23L478.1 126.17L479.2 125.10L480.3 124.01L481.4 122.89L482.6 121.73L483.7 120.50L484.8 119.13L485.9 117.61L487.1 116.00L488.2 114.37L489.3 112.81L490.4 111.37L491.6 110.14L492.7 109.18L493.8 108.49L494.9 108.02L496.1 107.71L497.2 107.55L498.3 107.51L499.4 107.54L500.5 107.62L501.7 107.72L502.8 107.88L503.9 108.15L505.0 108.49L506.2 108.90L507.3 109.36L508.4 109.84L509.5 110.32L510.7 110.80L511.8 111.28L512.9 111.79L514.0 112.33L515.2 112.88L516.3 113.45L517.4 114.01L518.5 114.56L519.6 115.09L520.8 115.61L521.9 116.13L523.0 116.65L524.1 117.17L525.3 117.67L526.4 118.17L527.5 118.65L528.6 119.11L529.8 119.56L530.9 119.99L532.0 120.41L533.1 120.82L534.3 121.22L535.4 121.61L536.5 121.98L537.6 122.34L538.8 122.68L539.9 123.01L541.0 123.32L542.1 123.63L543.2 123.92L544.4 124.19L545.5 124.46L546.6 124.72L547.7 124.97L548.9 125.20L550.0 125.42L551.1 125.63L552.2 125.83L553.4 126.03L554.5 126.21L555.6 126.39L556.7 126.55L557.9 126.71L559.0 126.86L560.1 127.00L561.2 127.14L562.4 127.26L563.5 127.39L564.6 127.50L565.7 127.62L566.8 127.72L568.0 127.82L569.1 127.91L570.2 128.00L571.3 128.08L572.5 128.16L573.6 128.23L574.7 128.30L575.8 128.37L577.0 128.43L578.1 128.49L579.2 128.54L580.3 128.60L581.5 128.64L582.6 128.69L583.7 128.74L584.8 128.78L586.0 128.82L587.1 128.85L588.2 128.89L589.3 128.92L590.4 128.95L591.6 128.98L592.7 129.01L593.8 129.03L594.9 129.05L596.1 129.08L597.2 129.10L598.3 129.12L599.4 129.13L600.6 129.15L601.7 129.17L602.8 129.18L603.9 129.20L605.1 129.21L606.2 129.22L607.3 129.24L608.4 129.25L609.5 129.26L610.7 129.27L611.8 129.28L612.9 129.28L614.0 129.29L615.2 129.30L616.3 129.31L617.4 129.31L618.5 129.32L619.7 129.32L620.8 129.33L621.9 129.33L623.0 129.34L624.2 129.34L625.3 129.35L626.4 129.35L627.5 129.35L628.7 129.36L629.8 129.36L630.9 129.36L632.0 129.37L633.1 129.37L634.3 129.37L635.4 129.37L636.5 129.37L637.6 129.38L638.8 129.38L639.9 129.38L641.0 129.38L642.1 129.38L643.3 129.38L644.4 129.38L645.5 129.39L646.6 129.39L647.8 129.39L648.9 129.39L650.0 129.39L651.1 129.39L652.3 129.39L653.4 129.39L654.5 129.39" fill="none" stroke="#222" stroke-width="0.62"/>
<path d="M474.70 129.40L475.8 128.29L476.9 127.20L478.1 126.12L479.2 125.04L480.3 123.94L481.4 122.81L482.6 121.62L483.7 120.38L484.8 119.06L485.9 117.66L487.1 116.21L488.2 114.74L489.3 113.25L490.4 111.76L491.6 110.31L492.7 108.91L493.8 107.47L494.9 105.95L496.1 104.41L497.2 102.90L498.3 101.49L499.4 100.23L500.5 99.18L501.7 98.41L502.8 97.93L503.9 97.68L505.0 97.64L506.2 97.76L507.3 98.00L508.4 98.32L509.5 98.69L510.7 99.08L511.8 99.51L512.9 100.06L514.0 100.69L515.2 101.39L516.3 102.13L517.4 102.90L518.5 103.66L519.6 104.40L520.8 105.14L521.9 105.91L523.0 106.70L524.1 107.50L525.3 108.30L526.4 109.09L527.5 109.87L528.6 110.61L529.8 111.34L530.9 112.06L532.0 112.78L533.1 113.48L534.3 114.16L535.4 114.83L536.5 115.47L537.6 116.10L538.8 116.70L539.9 117.28L541.0 117.84L542.1 118.38L543.2 118.91L544.4 119.41L545.5 119.90L546.6 120.37L547.7 120.82L548.9 121.25L550.0 121.66L551.1 122.06L552.2 122.43L553.4 122.79L554.5 123.14L555.6 123.47L556.7 123.79L557.9 124.09L559.0 124.38L560.1 124.65L561.2 124.90L562.4 125.15L563.5 125.38L564.6 125.61L565.7 125.82L566.8 126.03L568.0 126.22L569.1 126.40L570.2 126.57L571.3 126.73L572.5 126.88L573.6 127.03L574.7 127.17L575.8 127.30L577.0 127.43L578.1 127.54L579.2 127.65L580.3 127.75L581.5 127.85L582.6 127.95L583.7 128.04L584.8 128.12L586.0 128.20L587.1 128.27L588.2 128.34L589.3 128.40L590.4 128.46L591.6 128.52L592.7 128.58L593.8 128.63L594.9 128.68L596.1 128.72L597.2 128.77L598.3 128.81L599.4 128.84L600.6 128.88L601.7 128.91L602.8 128.95L603.9 128.98L605.1 129.00L606.2 129.03L607.3 129.05L608.4 129.07L609.5 129.10L610.7 129.12L611.8 129.14L612.9 129.15L614.0 129.17L615.2 129.18L616.3 129.20L617.4 129.21L618.5 129.22L619.7 129.24L620.8 129.25L621.9 129.26L623.0 129.27L624.2 129.28L625.3 129.28L626.4 129.29L627.5 129.30L628.7 129.31L629.8 129.31L630.9 129.32L632.0 129.33L633.1 129.33L634.3 129.33L635.4 129.34L636.5 129.34L637.6 129.35L638.8 129.35L639.9 129.35L641.0 129.36L642.1 129.36L643.3 129.36L644.4 129.37L645.5 129.37L646.6 129.37L647.8 129.37L648.9 129.37L650.0 129.38L651.1 129.38L652.3 129.38L653.4 129.38L654.5 129.38" fill="none" stroke="#222" stroke-width="0.62"/>
<path d="M474.70 129.40L475.8 128.28L476.9 127.18L478.1 126.10L479.2 125.00L480.3 123.89L481.4 122.75L482.6 121.55L483.7 120.30L484.8 118.96L485.9 117.56L487.1 116.10L488.2 114.61L489.3 113.10L490.4 111.61L491.6 110.14L492.7 108.73L493.8 107.34L494.9 105.96L496.1 104.59L497.2 103.24L498.3 101.91L499.4 100.61L500.5 99.35L501.7 98.14L502.8 96.90L503.9 95.61L505.0 94.32L506.2 93.08L507.3 91.94L508.4 90.97L509.5 90.20L510.7 89.71L511.8 89.50L512.9 89.53L514.0 89.77L515.2 90.18L516.3 90.70L517.4 91.31L518.5 91.96L519.6 92.61L520.8 93.30L521.9 94.10L523.0 94.99L524.1 95.93L525.3 96.91L526.4 97.91L527.5 98.90L528.6 99.86L529.8 100.80L530.9 101.78L532.0 102.76L533.1 103.75L534.3 104.73L535.4 105.69L536.5 106.64L537.6 107.55L538.8 108.43L539.9 109.30L541.0 110.15L542.1 110.99L543.2 111.80L544.4 112.59L545.5 113.36L546.6 114.09L547.7 114.80L548.9 115.49L550.0 116.14L551.1 116.78L552.2 117.39L553.4 117.98L554.5 118.55L555.6 119.10L556.7 119.62L557.9 120.12L559.0 120.59L560.1 121.05L561.2 121.48L562.4 121.90L563.5 122.29L564.6 122.68L565.7 123.04L566.8 123.39L568.0 123.71L569.1 124.02L570.2 124.32L571.3 124.60L572.5 124.87L573.6 125.12L574.7 125.37L575.8 125.60L577.0 125.82L578.1 126.02L579.2 126.21L580.3 126.39L581.5 126.57L582.6 126.74L583.7 126.90L584.8 127.05L586.0 127.19L587.1 127.32L588.2 127.44L589.3 127.56L590.4 127.67L591.6 127.77L592.7 127.88L593.8 127.97L594.9 128.06L596.1 128.14L597.2 128.22L598.3 128.29L599.4 128.36L600.6 128.42L601.7 128.49L602.8 128.54L603.9 128.60L605.1 128.65L606.2 128.70L607.3 128.74L608.4 128.78L609.5 128.82L610.7 128.86L611.8 128.90L612.9 128.93L614.0 128.96L615.2 128.99L616.3 129.01L617.4 129.04L618.5 129.06L619.7 129.09L620.8 129.11L621.9 129.13L623.0 129.14L624.2 129.16L625.3 129.18L626.4 129.19L627.5 129.21L628.7 129.22L629.8 129.23L630.9 129.24L632.0 129.25L633.1 129.26L634.3 129.27L635.4 129.28L636.5 129.29L637.6 129.30L638.8 129.30L639.9 129.31L641.0 129.32L642.1 129.32L643.3 129.33L644.4 129.33L645.5 129.34L646.6 129.34L647.8 129.35L648.9 129.35L650.0 129.35L651.1 129.36L652.3 129.36L653.4 129.36L654.5 129.37" fill="none" stroke="#222" stroke-width="0.62"/>
<path d="M474.70 129.40L475.8 128.27L476.9 127.17L478.1 126.08L479.2 124.98L480.3 123.86L481.4 122.71L482.6 121.51L483.7 120.24L484.8 118.90L485.9 117.49L487.1 116.02L488.2 114.52L489.3 113.01L490.4 111.50L491.6 110.03L492.7 108.60L493.8 107.21L494.9 105.82L496.1 104.44L497.2 103.08L498.3 101.74L499.4 100.44L500.5 99.17L501.7 97.95L502.8 96.77L503.9 95.63L505.0 94.51L506.2 93.44L507.3 92.39L508.4 91.38L509.5 90.41L510.7 89.47L511.8 88.51L512.9 87.50L514.0 86.48L515.2 85.52L516.3 84.67L517.4 83.96L518.5 83.47L519.6 83.23L520.8 83.28L521.9 83.57L523.0 84.06L524.1 84.70L525.3 85.47L526.4 86.31L527.5 87.18L528.6 88.04L529.8 88.94L530.9 89.95L532.0 91.03L533.1 92.16L534.3 93.32L535.4 94.49L536.5 95.65L537.6 96.77L538.8 97.87L539.9 98.99L541.0 100.11L542.1 101.23L543.2 102.35L544.4 103.44L545.5 104.50L546.6 105.52L547.7 106.51L548.9 107.49L550.0 108.44L551.1 109.36L552.2 110.27L553.4 111.14L554.5 111.99L555.6 112.80L556.7 113.58L557.9 114.34L559.0 115.06L560.1 115.76L561.2 116.43L562.4 117.07L563.5 117.69L564.6 118.29L565.7 118.86L566.8 119.40L568.0 119.92L569.1 120.41L570.2 120.88L571.3 121.33L572.5 121.77L573.6 122.18L574.7 122.58L575.8 122.95L577.0 123.30L578.1 123.64L579.2 123.96L580.3 124.26L581.5 124.55L582.6 124.83L583.7 125.09L584.8 125.34L586.0 125.57L587.1 125.79L588.2 126.00L589.3 126.19L590.4 126.38L591.6 126.56L592.7 126.73L593.8 126.89L594.9 127.04L596.1 127.18L597.2 127.31L598.3 127.44L599.4 127.56L600.6 127.67L601.7 127.78L602.8 127.88L603.9 127.97L605.1 128.06L606.2 128.14L607.3 128.22L608.4 128.29L609.5 128.36L610.7 128.43L611.8 128.49L612.9 128.55L614.0 128.60L615.2 128.65L616.3 128.70L617.4 128.75L618.5 128.79L619.7 128.83L620.8 128.87L621.9 128.90L623.0 128.93L624.2 128.96L625.3 128.99L626.4 129.02L627.5 129.04L628.7 129.07L629.8 129.09L630.9 129.11L632.0 129.13L633.1 129.15L634.3 129.16L635.4 129.18L636.5 129.20L637.6 129.21L638.8 129.22L639.9 129.23L641.0 129.25L642.1 129.26L643.3 129.27L644.4 129.28L645.5 129.28L646.6 129.29L647.8 129.30L648.9 129.31L650.0 129.31L651.1 129.32L652.3 129.32L653.4 129.33L654.5 129.33" fill="none" stroke="#222" stroke-width="0.62"/>
<path d="M474.70 129.40L475.8 128.27L476.9 127.16L478.1 126.06L479.2 124.96L480.3 123.84L481.4 122.68L482.6 121.48L483.7 120.21L484.8 118.86L485.9 117.44L487.1 115.97L488.2 114.46L489.3 112.94L490.4 111.43L491.6 109.95L492.7 108.52L493.8 107.12L494.9 105.73L496.1 104.34L497.2 102.98L498.3 101.64L499.4 100.33L500.5 99.05L501.7 97.83L502.8 96.64L503.9 95.49L505.0 94.38L506.2 93.29L507.3 92.25L508.4 91.23L509.5 90.26L510.7 89.31L511.8 88.41L512.9 87.55L514.0 86.72L515.2 85.92L516.3 85.16L517.4 84.43L518.5 83.73L519.6 83.05L520.8 82.34L521.9 81.58L523.0 80.81L524.1 80.09L525.3 79.46L526.4 78.99L527.5 78.71L528.6 78.69L529.8 78.94L530.9 79.42L532.0 80.10L533.1 80.94L534.3 81.88L535.4 82.89L536.5 83.93L537.6 84.95L538.8 86.01L539.9 87.16L541.0 88.38L542.1 89.64L543.2 90.93L544.4 92.23L545.5 93.50L546.6 94.73L547.7 95.95L548.9 97.17L550.0 98.39L551.1 99.60L552.2 100.80L553.4 101.98L554.5 103.12L555.6 104.22L556.7 105.29L557.9 106.33L559.0 107.34L560.1 108.33L561.2 109.29L562.4 110.22L563.5 111.12L564.6 111.98L565.7 112.82L566.8 113.61L568.0 114.38L569.1 115.12L570.2 115.82L571.3 116.50L572.5 117.16L573.6 117.79L574.7 118.39L575.8 118.96L577.0 119.51L578.1 120.02L579.2 120.52L580.3 120.99L581.5 121.44L582.6 121.88L583.7 122.30L584.8 122.69L586.0 123.06L587.1 123.41L588.2 123.74L589.3 124.05L590.4 124.36L591.6 124.65L592.7 124.92L593.8 125.18L594.9 125.42L596.1 125.65L597.2 125.87L598.3 126.07L599.4 126.27L600.6 126.46L601.7 126.63L602.8 126.80L603.9 126.96L605.1 127.10L606.2 127.24L607.3 127.37L608.4 127.49L609.5 127.61L610.7 127.72L611.8 127.83L612.9 127.92L614.0 128.01L615.2 128.10L616.3 128.18L617.4 128.26L618.5 128.33L619.7 128.40L620.8 128.46L621.9 128.52L623.0 128.58L624.2 128.63L625.3 128.68L626.4 128.72L627.5 128.77L628.7 128.81L629.8 128.85L630.9 128.89L632.0 128.92L633.1 128.95L634.3 128.98L635.4 129.01L636.5 129.03L637.6 129.06L638.8 129.08L639.9 129.10L641.0 129.12L642.1 129.14L643.3 129.16L644.4 129.17L645.5 129.19L646.6 129.20L647.8 129.22L648.9 129.23L650.0 129.24L651.1 129.25L652.3 129.26L653.4 129.27L654.5 129.28" fill="none" stroke="#222" stroke-width="0.62"/>
<path d="M474.70 129.40L475.8 128.27L476.9 127.15L478.1 126.05L479.2 124.95L480.3 123.82L481.4 122.66L482.6 121.46L483.7 120.18L484.8 118.83L485.9 117.41L487.1 115.93L488.2 114.42L489.3 112.90L490.4 111.39L491.6 109.90L492.7 108.47L493.8 107.06L494.9 105.67L496.1 104.28L497.2 102.91L498.3 101.56L499.4 100.25L500.5 98.97L501.7 97.75L502.8 96.56L503.9 95.41L505.0 94.29L506.2 93.20L507.3 92.15L508.4 91.13L509.5 90.15L510.7 89.21L511.8 88.30L512.9 87.44L514.0 86.61L515.2 85.81L516.3 85.05L517.4 84.31L518.5 83.61L519.6 82.93L520.8 82.28L521.9 81.67L523.0 81.09L524.1 80.53L525.3 80.01L526.4 79.50L527.5 79.02L528.6 78.55L529.8 78.05L530.9 77.48L532.0 76.90L533.1 76.36L534.3 75.91L535.4 75.60L536.5 75.49L537.6 75.62L538.8 76.02L539.9 76.65L541.0 77.47L542.1 78.43L543.2 79.50L544.4 80.63L545.5 81.79L546.6 82.93L547.7 84.09L548.9 85.34L550.0 86.66L551.1 88.01L552.2 89.39L553.4 90.77L554.5 92.12L555.6 93.43L556.7 94.72L557.9 96.01L559.0 97.29L560.1 98.57L561.2 99.83L562.4 101.05L563.5 102.25L564.6 103.40L565.7 104.52L566.8 105.60L568.0 106.66L569.1 107.69L570.2 108.69L571.3 109.65L572.5 110.58L573.6 111.48L574.7 112.34L575.8 113.17L577.0 113.96L578.1 114.72L579.2 115.45L580.3 116.16L581.5 116.83L582.6 117.48L583.7 118.11L584.8 118.70L586.0 119.26L587.1 119.79L588.2 120.30L589.3 120.78L590.4 121.25L591.6 121.70L592.7 122.13L593.8 122.53L594.9 122.91L596.1 123.27L597.2 123.61L598.3 123.93L599.4 124.24L600.6 124.54L601.7 124.82L602.8 125.09L603.9 125.34L605.1 125.57L606.2 125.79L607.3 126.00L608.4 126.20L609.5 126.39L610.7 126.58L611.8 126.75L612.9 126.91L614.0 127.05L615.2 127.19L616.3 127.33L617.4 127.45L618.5 127.57L619.7 127.69L620.8 127.80L621.9 127.90L623.0 127.99L624.2 128.07L625.3 128.16L626.4 128.23L627.5 128.31L628.7 128.38L629.8 128.45L630.9 128.51L632.0 128.56L633.1 128.62L634.3 128.66L635.4 128.71L636.5 128.76L637.6 128.80L638.8 128.84L639.9 128.88L641.0 128.91L642.1 128.94L643.3 128.97L644.4 129.00L645.5 129.03L646.6 129.05L647.8 129.07L648.9 129.09L650.0 129.11L651.1 129.13L652.3 129.15L653.4 129.17L654.5 129.19" fill="none" stroke="#222" stroke-width="0.62"/>
<path d="M474.70 129.40L475.8 128.26L476.9 127.15L478.1 126.05L479.2 124.94L480.3 123.81L481.4 122.65L482.6 121.44L483.7 120.17L484.8 118.81L485.9 117.39L487.1 115.91L488.2 114.39L489.3 112.87L490.4 111.35L491.6 109.87L492.7 108.43L493.8 107.03L494.9 105.62L496.1 104.23L497.2 102.86L498.3 101.51L499.4 100.20L500.5 98.92L501.7 97.69L502.8 96.50L503.9 95.35L505.0 94.22L506.2 93.14L507.3 92.08L508.4 91.07L509.5 90.08L510.7 89.14L511.8 88.23L512.9 87.36L514.0 86.53L515.2 85.73L516.3 84.97L517.4 84.24L518.5 83.53L519.6 82.85L520.8 82.20L521.9 81.59L523.0 81.00L524.1 80.45L525.3 79.92L526.4 79.42L527.5 78.93L528.6 78.47L529.8 78.02L530.9 77.60L532.0 77.21L533.1 76.84L534.3 76.49L535.4 76.15L536.5 75.83L537.6 75.53L538.8 75.17L539.9 74.74L541.0 74.30L542.1 73.88L543.2 73.56L544.4 73.37L545.5 73.37L546.6 73.61L547.7 74.12L548.9 74.85L550.0 75.76L551.1 76.82L552.2 77.97L553.4 79.19L554.5 80.42L555.6 81.63L556.7 82.87L557.9 84.19L559.0 85.56L560.1 86.98L561.2 88.42L562.4 89.85L563.5 91.26L564.6 92.62L565.7 93.95L566.8 95.28L568.0 96.61L569.1 97.93L570.2 99.22L571.3 100.48L572.5 101.71L573.6 102.90L574.7 104.04L575.8 105.16L577.0 106.24L578.1 107.30L579.2 108.32L580.3 109.30L581.5 110.26L582.6 111.17L583.7 112.06L584.8 112.90L586.0 113.71L587.1 114.49L588.2 115.23L589.3 115.95L590.4 116.64L591.6 117.30L592.7 117.93L593.8 118.53L594.9 119.11L596.1 119.65L597.2 120.17L598.3 120.66L599.4 121.13L600.6 121.59L601.7 122.03L602.8 122.43L603.9 122.82L605.1 123.18L606.2 123.53L607.3 123.86L608.4 124.17L609.5 124.48L610.7 124.76L611.8 125.03L612.9 125.29L614.0 125.52L615.2 125.75L616.3 125.96L617.4 126.16L618.5 126.36L619.7 126.54L620.8 126.72L621.9 126.88L623.0 127.03L624.2 127.17L625.3 127.30L626.4 127.43L627.5 127.55L628.7 127.67L629.8 127.78L630.9 127.88L632.0 127.97L633.1 128.06L634.3 128.14L635.4 128.22L636.5 128.30L637.6 128.37L638.8 128.44L639.9 128.50L641.0 128.55L642.1 128.61L643.3 128.66L644.4 128.71L645.5 128.75L646.6 128.79L647.8 128.83L648.9 128.87L650.0 128.90L651.1 128.93L652.3 128.96L653.4 128.99L654.5 129.02" fill="none" stroke="#222" stroke-width="0.62"/>
<path d="M474.70 129.40L475.8 128.26L476.9 127.15L478.1 126.04L479.2 124.94L480.3 123.81L481.4 122.64L482.6 121.43L483.7 120.16L484.8 118.80L485.9 117.37L487.1 115.89L488.2 114.38L489.3 112.85L490.4 111.33L491.6 109.84L492.7 108.41L493.8 107.00L494.9 105.60L496.1 104.20L497.2 102.83L498.3 101.48L499.4 100.16L500.5 98.89L501.7 97.65L502.8 96.46L503.9 95.31L505.0 94.18L506.2 93.09L507.3 92.04L508.4 91.02L509.5 90.04L510.7 89.09L511.8 88.18L512.9 87.31L514.0 86.48L515.2 85.68L516.3 84.92L517.4 84.18L518.5 83.48L519.6 82.80L520.8 82.15L521.9 81.53L523.0 80.95L524.1 80.39L525.3 79.86L526.4 79.36L527.5 78.87L528.6 78.41L529.8 77.96L530.9 77.54L532.0 77.15L533.1 76.78L534.3 76.43L535.4 76.09L536.5 75.77L537.6 75.46L538.8 75.17L539.9 74.89L541.0 74.64L542.1 74.40L543.2 74.17L544.4 73.95L545.5 73.75L546.6 73.55L547.7 73.30L548.9 72.97L550.0 72.61L551.1 72.29L552.2 72.05L553.4 71.94L554.5 72.02L555.6 72.33L556.7 72.91L557.9 73.71L559.0 74.68L560.1 75.80L561.2 77.01L562.4 78.27L563.5 79.56L564.6 80.82L565.7 82.10L566.8 83.47L568.0 84.89L569.1 86.34L570.2 87.82L571.3 89.28L572.5 90.72L573.6 92.11L574.7 93.48L575.8 94.84L577.0 96.19L578.1 97.53L579.2 98.85L580.3 100.14L581.5 101.39L582.6 102.59L583.7 103.76L584.8 104.89L586.0 105.99L587.1 107.06L588.2 108.09L589.3 109.09L590.4 110.06L591.6 110.99L592.7 111.88L593.8 112.74L594.9 113.56L596.1 114.34L597.2 115.10L598.3 115.82L599.4 116.52L600.6 117.19L601.7 117.83L602.8 118.44L603.9 119.02L605.1 119.56L606.2 120.09L607.3 120.59L608.4 121.07L609.5 121.53L610.7 121.97L611.8 122.38L612.9 122.77L614.0 123.14L615.2 123.48L616.3 123.82L617.4 124.13L618.5 124.44L619.7 124.73L620.8 125.00L621.9 125.26L623.0 125.50L624.2 125.72L625.3 125.94L626.4 126.14L627.5 126.34L628.7 126.52L629.8 126.70L630.9 126.86L632.0 127.01L633.1 127.15L634.3 127.29L635.4 127.42L636.5 127.54L637.6 127.66L638.8 127.77L639.9 127.87L641.0 127.96L642.1 128.05L643.3 128.14L644.4 128.21L645.5 128.29L646.6 128.36L647.8 128.43L648.9 128.48L650.0 128.54L651.1 128.59L652.3 128.64L653.4 128.69L654.5 128.75" fill="none" stroke="#222" stroke-width="0.62"/>
<path d="M474.70 129.40L475.8 128.26L476.9 127.15L478.1 126.04L479.2 124.93L480.3 123.80L481.4 122.64L482.6 121.43L483.7 120.15L484.8 118.79L485.9 117.36L487.1 115.88L488.2 114.36L489.3 112.84L490.4 111.32L491.6 109.83L492.7 108.39L493.8 106.98L494.9 105.58L496.1 104.18L497.2 102.81L498.3 101.46L499.4 100.14L500.5 98.86L501.7 97.63L502.8 96.44L503.9 95.28L505.0 94.15L506.2 93.06L507.3 92.01L508.4 90.99L509.5 90.01L510.7 89.06L511.8 88.15L512.9 87.28L514.0 86.45L515.2 85.65L516.3 84.88L517.4 84.15L518.5 83.44L519.6 82.76L520.8 82.11L521.9 81.49L523.0 80.91L524.1 80.35L525.3 79.82L526.4 79.32L527.5 78.83L528.6 78.37L529.8 77.92L530.9 77.50L532.0 77.11L533.1 76.74L534.3 76.39L535.4 76.05L536.5 75.73L537.6 75.42L538.8 75.13L539.9 74.85L541.0 74.59L542.1 74.35L543.2 74.13L544.4 73.91L545.5 73.70L546.6 73.50L547.7 73.31L548.9 73.14L550.0 72.98L551.1 72.82L552.2 72.68L553.4 72.54L554.5 72.41L555.6 72.29L556.7 72.11L557.9 71.84L559.0 71.55L560.1 71.29L561.2 71.10L562.4 71.04L563.5 71.17L564.6 71.53L565.7 72.16L566.8 73.00L568.0 74.01L569.1 75.16L570.2 76.41L571.3 77.71L572.5 79.03L573.6 80.32L574.7 81.64L575.8 83.03L577.0 84.47L578.1 85.95L579.2 87.45L580.3 88.94L581.5 90.40L582.6 91.81L583.7 93.19L584.8 94.57L586.0 95.94L587.1 97.30L588.2 98.63L589.3 99.93L590.4 101.19L591.6 102.41L592.7 103.58L593.8 104.73L594.9 105.84L596.1 106.92L597.2 107.96L598.3 108.97L599.4 109.94L600.6 110.88L601.7 111.78L602.8 112.64L603.9 113.47L605.1 114.26L606.2 115.02L607.3 115.75L608.4 116.45L609.5 117.13L610.7 117.77L611.8 118.38L612.9 118.96L614.0 119.52L615.2 120.04L616.3 120.54L617.4 121.03L618.5 121.49L619.7 121.93L620.8 122.35L621.9 122.74L623.0 123.11L624.2 123.46L625.3 123.79L626.4 124.11L627.5 124.42L628.7 124.71L629.8 124.98L630.9 125.24L632.0 125.48L633.1 125.71L634.3 125.92L635.4 126.13L636.5 126.33L637.6 126.51L638.8 126.69L639.9 126.85L641.0 127.00L642.1 127.15L643.3 127.28L644.4 127.41L645.5 127.54L646.6 127.65L647.8 127.76L648.9 127.85L650.0 127.94L651.1 128.03L652.3 128.11L653.4 128.20L654.5 128.29" fill="none" stroke="#222" stroke-width="0.62"/>
<path d="M474.70 129.40L475.8 128.26L476.9 127.15L478.1 126.04L479.2 124.93L480.3 123.80L481.4 122.64L482.6 121.42L483.7 120.15L484.8 118.79L485.9 117.36L487.1 115.87L488.2 114.36L489.3 112.83L490.4 111.31L491.6 109.82L492.7 108.38L493.8 106.97L494.9 105.57L496.1 104.17L497.2 102.80L498.3 101.44L499.4 100.13L500.5 98.85L501.7 97.61L502.8 96.42L503.9 95.26L505.0 94.14L506.2 93.05L507.3 91.99L508.4 90.97L509.5 89.99L510.7 89.04L511.8 88.13L512.9 87.26L514.0 86.42L515.2 85.63L516.3 84.86L517.4 84.12L518.5 83.42L519.6 82.73L520.8 82.08L521.9 81.47L523.0 80.88L524.1 80.33L525.3 79.80L526.4 79.29L527.5 78.81L528.6 78.34L529.8 77.89L530.9 77.48L532.0 77.08L533.1 76.71L534.3 76.36L535.4 76.02L536.5 75.70L537.6 75.39L538.8 75.10L539.9 74.82L541.0 74.57L542.1 74.32L543.2 74.10L544.4 73.88L545.5 73.67L546.6 73.47L547.7 73.29L548.9 73.11L550.0 72.95L551.1 72.79L552.2 72.65L553.4 72.51L554.5 72.38L555.6 72.26L556.7 72.14L557.9 72.03L559.0 71.93L560.1 71.83L561.2 71.74L562.4 71.66L563.5 71.58L564.6 71.50L565.7 71.37L566.8 71.15L568.0 70.89L569.1 70.66L570.2 70.51L571.3 70.49L572.5 70.65L573.6 71.04L574.7 71.70L575.8 72.56L577.0 73.60L578.1 74.78L579.2 76.05L580.3 77.37L581.5 78.71L582.6 80.02L583.7 81.35L584.8 82.76L586.0 84.22L587.1 85.72L588.2 87.23L589.3 88.73L590.4 90.20L591.6 91.63L592.7 93.02L593.8 94.41L594.9 95.79L596.1 97.15L597.2 98.49L598.3 99.80L599.4 101.07L600.6 102.30L601.7 103.48L602.8 104.63L603.9 105.75L605.1 106.83L606.2 107.88L607.3 108.90L608.4 109.87L609.5 110.82L610.7 111.72L611.8 112.59L612.9 113.42L614.0 114.21L615.2 114.98L616.3 115.71L617.4 116.41L618.5 117.09L619.7 117.74L620.8 118.35L621.9 118.93L623.0 119.49L624.2 120.02L625.3 120.52L626.4 121.00L627.5 121.47L628.7 121.91L629.8 122.33L630.9 122.72L632.0 123.09L633.1 123.44L634.3 123.78L635.4 124.10L636.5 124.41L637.6 124.70L638.8 124.97L639.9 125.23L641.0 125.47L642.1 125.70L643.3 125.91L644.4 126.12L645.5 126.32L646.6 126.50L647.8 126.67L648.9 126.82L650.0 126.97L651.1 127.11L652.3 127.24L653.4 127.38L654.5 127.53" fill="none" stroke="#222" stroke-width="0.62"/>
<path d="M474.70 129.40L475.8 128.26L476.9 127.14L478.1 126.04L479.2 124.93L480.3 123.80L481.4 122.63L482.6 121.42L483.7 120.14L484.8 118.78L485.9 117.35L487.1 115.87L488.2 114.35L489.3 112.82L490.4 111.30L491.6 109.81L492.7 108.37L493.8 106.96L494.9 105.56L496.1 104.16L497.2 102.79L498.3 101.43L499.4 100.12L500.5 98.83L501.7 97.60L502.8 96.41L503.9 95.25L505.0 94.12L506.2 93.03L507.3 91.98L508.4 90.96L509.5 89.97L510.7 89.02L511.8 88.11L512.9 87.24L514.0 86.41L515.2 85.61L516.3 84.84L517.4 84.11L518.5 83.40L519.6 82.72L520.8 82.07L521.9 81.45L523.0 80.87L524.1 80.31L525.3 79.78L526.4 79.27L527.5 78.79L528.6 78.32L529.8 77.88L530.9 77.46L532.0 77.06L533.1 76.69L534.3 76.34L535.4 76.00L536.5 75.68L537.6 75.37L538.8 75.08L539.9 74.80L541.0 74.55L542.1 74.30L543.2 74.08L544.4 73.86L545.5 73.65L546.6 73.45L547.7 73.27L548.9 73.09L550.0 72.93L551.1 72.77L552.2 72.63L553.4 72.49L554.5 72.36L555.6 72.24L556.7 72.12L557.9 72.01L559.0 71.91L560.1 71.81L561.2 71.72L562.4 71.64L563.5 71.56L564.6 71.48L565.7 71.41L566.8 71.34L568.0 71.28L569.1 71.22L570.2 71.17L571.3 71.12L572.5 71.07L573.6 71.02L574.7 70.91L575.8 70.72L577.0 70.49L578.1 70.29L579.2 70.16L580.3 70.15L581.5 70.33L582.6 70.75L583.7 71.42L584.8 72.30L586.0 73.36L587.1 74.55L588.2 75.83L589.3 77.17L590.4 78.52L591.6 79.84L592.7 81.18L593.8 82.60L594.9 84.07L596.1 85.58L597.2 87.10L598.3 88.61L599.4 90.09L600.6 91.52L601.7 92.92L602.8 94.32L603.9 95.70L605.1 97.07L606.2 98.42L607.3 99.73L608.4 101.01L609.5 102.23L610.7 103.42L611.8 104.58L612.9 105.70L614.0 106.78L615.2 107.84L616.3 108.85L617.4 109.83L618.5 110.78L619.7 111.69L620.8 112.56L621.9 113.39L623.0 114.18L624.2 114.95L625.3 115.68L626.4 116.39L627.5 117.07L628.7 117.72L629.8 118.33L630.9 118.92L632.0 119.47L633.1 120.00L634.3 120.51L635.4 120.99L636.5 121.46L637.6 121.90L638.8 122.32L639.9 122.71L641.0 123.08L642.1 123.43L643.3 123.77L644.4 124.09L645.5 124.40L646.6 124.69L647.8 124.95L648.9 125.19L650.0 125.42L651.1 125.64L652.3 125.86L653.4 126.08L654.5 126.31" fill="none" stroke="#222" stroke-width="0.62"/>
<path d="M474.70 129.40L475.8 128.26L476.9 127.14L478.1 126.04L479.2 124.93L480.3 123.80L481.4 122.63L482.6 121.42L483.7 120.14L484.8 118.78L485.9 117.35L487.1 115.86L488.2 114.35L489.3 112.82L490.4 111.30L491.6 109.81L492.7 108.37L493.8 106.96L494.9 105.55L496.1 104.16L497.2 102.78L498.3 101.43L499.4 100.11L500.5 98.83L501.7 97.59L502.8 96.40L503.9 95.24L505.0 94.12L506.2 93.02L507.3 91.97L508.4 90.95L509.5 89.96L510.7 89.01L511.8 88.10L512.9 87.23L514.0 86.40L515.2 85.60L516.3 84.83L517.4 84.10L518.5 83.39L519.6 82.71L520.8 82.06L521.9 81.44L523.0 80.85L524.1 80.30L525.3 79.77L526.4 79.26L527.5 78.78L528.6 78.31L529.8 77.86L530.9 77.45L532.0 77.05L533.1 76.68L534.3 76.33L535.4 75.99L536.5 75.67L537.6 75.36L538.8 75.07L539.9 74.79L541.0 74.53L542.1 74.29L543.2 74.06L544.4 73.85L545.5 73.64L546.6 73.44L547.7 73.25L548.9 73.08L550.0 72.91L551.1 72.76L552.2 72.62L553.4 72.48L554.5 72.35L555.6 72.22L556.7 72.11L557.9 72.00L559.0 71.89L560.1 71.80L561.2 71.71L562.4 71.63L563.5 71.55L564.6 71.47L565.7 71.40L566.8 71.33L568.0 71.27L569.1 71.21L570.2 71.15L571.3 71.10L572.5 71.05L573.6 71.01L574.7 70.96L575.8 70.92L577.0 70.89L578.1 70.85L579.2 70.82L580.3 70.79L581.5 70.76L582.6 70.73L583.7 70.64L584.8 70.47L586.0 70.25L587.1 70.06L588.2 69.94L589.3 69.95L590.4 70.14L591.6 70.57L592.7 71.25L593.8 72.15L594.9 73.21L596.1 74.41L597.2 75.70L598.3 77.05L599.4 78.40L600.6 79.74L601.7 81.08L602.8 82.51L603.9 83.99L605.1 85.50L606.2 87.02L607.3 88.53L608.4 90.02L609.5 91.45L610.7 92.86L611.8 94.26L612.9 95.65L614.0 97.02L615.2 98.37L616.3 99.69L617.4 100.97L618.5 102.20L619.7 103.39L620.8 104.54L621.9 105.67L623.0 106.76L624.2 107.81L625.3 108.83L626.4 109.81L627.5 110.76L628.7 111.67L629.8 112.54L630.9 113.37L632.0 114.17L633.1 114.93L634.3 115.67L635.4 116.38L636.5 117.06L637.6 117.71L638.8 118.32L639.9 118.91L641.0 119.46L642.1 119.99L643.3 120.50L644.4 120.98L645.5 121.45L646.6 121.89L647.8 122.29L648.9 122.66L650.0 123.01L651.1 123.35L652.3 123.69L653.4 124.04L654.5 124.40" fill="none" stroke="#222" stroke-width="0.62"/>
<path d="M474.70 129.40L475.8 128.26L476.9 127.14L478.1 126.04L479.2 124.93L480.3 123.80L481.4 122.63L482.6 121.42L483.7 120.14L484.8 118.78L485.9 117.35L487.1 115.86L488.2 114.35L489.3 112.82L490.4 111.30L491.6 109.80L492.7 108.36L493.8 106.95L494.9 105.55L496.1 104.15L497.2 102.78L498.3 101.42L499.4 100.10L500.5 98.82L501.7 97.59L502.8 96.39L503.9 95.24L505.0 94.11L506.2 93.02L507.3 91.96L508.4 90.94L509.5 89.96L510.7 89.01L511.8 88.10L512.9 87.23L514.0 86.39L515.2 85.59L516.3 84.83L517.4 84.09L518.5 83.38L519.6 82.70L520.8 82.05L521.9 81.43L523.0 80.85L524.1 80.29L525.3 79.76L526.4 79.25L527.5 78.77L528.6 78.30L529.8 77.86L530.9 77.44L532.0 77.04L533.1 76.67L534.3 76.32L535.4 75.98L536.5 75.66L537.6 75.35L538.8 75.06L539.9 74.78L541.0 74.52L542.1 74.28L543.2 74.05L544.4 73.84L545.5 73.63L546.6 73.43L547.7 73.24L548.9 73.07L550.0 72.90L551.1 72.75L552.2 72.61L553.4 72.47L554.5 72.34L555.6 72.22L556.7 72.10L557.9 71.99L559.0 71.88L560.1 71.79L561.2 71.70L562.4 71.62L563.5 71.54L564.6 71.46L565.7 71.39L566.8 71.32L568.0 71.26L569.1 71.20L570.2 71.15L571.3 71.09L572.5 71.05L573.6 71.00L574.7 70.95L575.8 70.91L577.0 70.88L578.1 70.84L579.2 70.81L580.3 70.78L581.5 70.75L582.6 70.72L583.7 70.70L584.8 70.67L586.0 70.65L587.1 70.63L588.2 70.61L589.3 70.59L590.4 70.58L591.6 70.56L592.7 70.48L593.8 70.31L594.9 70.11L596.1 69.93L597.2 69.82L598.3 69.83L599.4 70.03L600.6 70.47L601.7 71.15L602.8 72.05L603.9 73.13L605.1 74.33L606.2 75.63L607.3 76.97L608.4 78.34L609.5 79.67L610.7 81.03L611.8 82.45L612.9 83.93L614.0 85.45L615.2 86.97L616.3 88.49L617.4 89.98L618.5 91.42L619.7 92.82L620.8 94.23L621.9 95.62L623.0 96.99L624.2 98.34L625.3 99.66L626.4 100.94L627.5 102.18L628.7 103.37L629.8 104.52L630.9 105.65L632.0 106.74L633.1 107.79L634.3 108.81L635.4 109.80L636.5 110.75L637.6 111.66L638.8 112.53L639.9 113.36L641.0 114.16L642.1 114.92L643.3 115.66L644.4 116.37L645.5 117.05L646.6 117.69L647.8 118.28L648.9 118.84L650.0 119.37L651.1 119.88L652.3 120.39L653.4 120.91L654.5 121.44" fill="none" stroke="#222" stroke-width="0.62"/>
<path d="M474.70 129.40L475.8 128.26L476.9 127.14L478.1 126.04L479.2 124.93L480.3 123.79L481.4 122.63L482.6 121.42L483.7 120.14L484.8 118.78L485.9 117.35L487.1 115.86L488.2 114.34L489.3 112.81L490.4 111.29L491.6 109.80L492.7 108.36L493.8 106.95L494.9 105.54L496.1 104.15L497.2 102.77L498.3 101.42L499.4 100.10L500.5 98.82L501.7 97.58L502.8 96.39L503.9 95.23L505.0 94.11L506.2 93.01L507.3 91.96L508.4 90.94L509.5 89.95L510.7 89.00L511.8 88.09L512.9 87.22L514.0 86.39L515.2 85.59L516.3 84.82L517.4 84.08L518.5 83.38L519.6 82.69L520.8 82.04L521.9 81.43L523.0 80.84L524.1 80.28L525.3 79.75L526.4 79.25L527.5 78.76L528.6 78.30L529.8 77.85L530.9 77.43L532.0 77.04L533.1 76.67L534.3 76.31L535.4 75.98L536.5 75.65L537.6 75.34L538.8 75.05L539.9 74.78L541.0 74.52L542.1 74.28L543.2 74.05L544.4 73.83L545.5 73.63L546.6 73.43L547.7 73.24L548.9 73.06L550.0 72.90L551.1 72.74L552.2 72.60L553.4 72.46L554.5 72.33L555.6 72.21L556.7 72.09L557.9 71.98L559.0 71.88L560.1 71.78L561.2 71.69L562.4 71.61L563.5 71.53L564.6 71.45L565.7 71.38L566.8 71.31L568.0 71.25L569.1 71.19L570.2 71.14L571.3 71.09L572.5 71.04L573.6 70.99L574.7 70.95L575.8 70.91L577.0 70.87L578.1 70.84L579.2 70.80L580.3 70.77L581.5 70.74L582.6 70.72L583.7 70.69L584.8 70.67L586.0 70.64L587.1 70.62L588.2 70.61L589.3 70.59L590.4 70.57L591.6 70.55L592.7 70.54L593.8 70.52L594.9 70.51L596.1 70.50L597.2 70.49L598.3 70.48L599.4 70.47L600.6 70.46L601.7 70.39L602.8 70.23L603.9 70.03L605.1 69.85L606.2 69.74L607.3 69.76L608.4 69.97L609.5 70.40L610.7 71.10L611.8 72.00L612.9 73.08L614.0 74.28L615.2 75.58L616.3 76.93L617.4 78.30L618.5 79.64L619.7 80.99L620.8 82.42L621.9 83.91L623.0 85.42L624.2 86.95L625.3 88.47L626.4 89.96L627.5 91.40L628.7 92.80L629.8 94.21L630.9 95.60L632.0 96.98L633.1 98.33L634.3 99.65L635.4 100.93L636.5 102.16L637.6 103.36L638.8 104.51L639.9 105.64L641.0 106.73L642.1 107.79L643.3 108.81L644.4 109.79L645.5 110.74L646.6 111.64L647.8 112.47L648.9 113.27L650.0 114.03L651.1 114.78L652.3 115.52L653.4 116.27L654.5 117.04" fill="none" stroke="#222" stroke-width="0.62"/>
<path d="M474.70 129.40L475.8 128.26L476.9 127.14L478.1 126.04L479.2 124.93L480.3 123.79L481.4 122.63L482.6 121.41L483.7 120.14L484.8 118.78L485.9 117.35L487.1 115.86L488.2 114.34L489.3 112.81L490.4 111.29L491.6 109.80L492.7 108.36L493.8 106.95L494.9 105.54L496.1 104.15L497.2 102.77L498.3 101.42L499.4 100.10L500.5 98.82L501.7 97.58L502.8 96.39L503.9 95.23L505.0 94.10L506.2 93.01L507.3 91.96L508.4 90.93L509.5 89.95L510.7 89.00L511.8 88.09L512.9 87.22L514.0 86.38L515.2 85.58L516.3 84.82L517.4 84.08L518.5 83.37L519.6 82.69L520.8 82.04L521.9 81.42L523.0 80.84L524.1 80.28L525.3 79.75L526.4 79.24L527.5 78.76L528.6 78.29L529.8 77.85L530.9 77.43L532.0 77.03L533.1 76.66L534.3 76.31L535.4 75.97L536.5 75.65L537.6 75.34L538.8 75.05L539.9 74.77L541.0 74.52L542.1 74.27L543.2 74.05L544.4 73.83L545.5 73.62L546.6 73.42L547.7 73.23L548.9 73.06L550.0 72.89L551.1 72.74L552.2 72.60L553.4 72.46L554.5 72.33L555.6 72.20L556.7 72.09L557.9 71.98L559.0 71.87L560.1 71.78L561.2 71.69L562.4 71.61L563.5 71.53L564.6 71.45L565.7 71.38L566.8 71.31L568.0 71.25L569.1 71.19L570.2 71.13L571.3 71.08L572.5 71.04L573.6 70.99L574.7 70.94L575.8 70.90L577.0 70.87L578.1 70.83L579.2 70.80L580.3 70.77L581.5 70.74L582.6 70.71L583.7 70.69L584.8 70.66L586.0 70.64L587.1 70.62L588.2 70.60L589.3 70.58L590.4 70.57L591.6 70.55L592.7 70.53L593.8 70.52L594.9 70.51L596.1 70.50L597.2 70.48L598.3 70.47L599.4 70.46L600.6 70.46L601.7 70.45L602.8 70.44L603.9 70.43L605.1 70.42L606.2 70.42L607.3 70.41L608.4 70.41L609.5 70.40L610.7 70.33L611.8 70.17L612.9 69.98L614.0 69.80L615.2 69.70L616.3 69.72L617.4 69.93L618.5 70.37L619.7 71.06L620.8 71.97L621.9 73.05L623.0 74.26L624.2 75.56L625.3 76.91L626.4 78.28L627.5 79.62L628.7 80.97L629.8 82.40L630.9 83.89L632.0 85.40L633.1 86.93L634.3 88.45L635.4 89.94L636.5 91.38L637.6 92.79L638.8 94.20L639.9 95.59L641.0 96.97L642.1 98.32L643.3 99.64L644.4 100.92L645.5 102.16L646.6 103.33L647.8 104.45L648.9 105.53L650.0 106.58L651.1 107.61L652.3 108.64L653.4 109.68L654.5 110.73" fill="none" stroke="#222" stroke-width="0.62"/>
<path d="M474.70 129.40L475.8 128.26L476.9 127.14L478.1 126.04L479.2 124.93L480.3 123.79L481.4 122.63L482.6 121.41L483.7 120.14L484.8 118.78L485.9 117.35L487.1 115.86L488.2 114.34L489.3 112.81L490.4 111.29L491.6 109.80L492.7 108.36L493.8 106.95L494.9 105.54L496.1 104.15L497.2 102.77L498.3 101.42L499.4 100.10L500.5 98.82L501.7 97.58L502.8 96.39L503.9 95.23L505.0 94.10L506.2 93.01L507.3 91.95L508.4 90.93L509.5 89.95L510.7 89.00L511.8 88.09L512.9 87.22L514.0 86.38L515.2 85.58L516.3 84.82L517.4 84.08L518.5 83.37L519.6 82.69L520.8 82.04L521.9 81.42L523.0 80.84L524.1 80.28L525.3 79.75L526.4 79.24L527.5 78.76L528.6 78.29L529.8 77.84L530.9 77.43L532.0 77.03L533.1 76.66L534.3 76.31L535.4 75.97L536.5 75.65L537.6 75.34L538.8 75.04L539.9 74.77L541.0 74.51L542.1 74.27L543.2 74.04L544.4 73.83L545.5 73.62L546.6 73.42L547.7 73.23L548.9 73.05L550.0 72.89L551.1 72.74L552.2 72.59L553.4 72.46L554.5 72.33L555.6 72.20L556.7 72.08L557.9 71.97L559.0 71.87L560.1 71.78L561.2 71.69L562.4 71.60L563.5 71.52L564.6 71.45L565.7 71.37L566.8 71.31L568.0 71.24L569.1 71.19L570.2 71.13L571.3 71.08L572.5 71.03L573.6 70.99L574.7 70.94L575.8 70.90L577.0 70.86L578.1 70.83L579.2 70.80L580.3 70.77L581.5 70.74L582.6 70.71L583.7 70.68L584.8 70.66L586.0 70.64L587.1 70.62L588.2 70.60L589.3 70.58L590.4 70.56L591.6 70.55L592.7 70.53L593.8 70.52L594.9 70.50L596.1 70.49L597.2 70.48L598.3 70.47L599.4 70.46L600.6 70.45L601.7 70.44L602.8 70.44L603.9 70.43L605.1 70.42L606.2 70.41L607.3 70.41L608.4 70.40L609.5 70.40L610.7 70.39L611.8 70.39L612.9 70.38L614.0 70.38L615.2 70.38L616.3 70.37L617.4 70.37L618.5 70.37L619.7 70.30L620.8 70.14L621.9 69.95L623.0 69.78L624.2 69.68L625.3 69.70L626.4 69.91L627.5 70.35L628.7 71.05L629.8 71.95L630.9 73.03L632.0 74.24L633.1 75.54L634.3 76.90L635.4 78.26L636.5 79.60L637.6 80.96L638.8 82.39L639.9 83.88L641.0 85.40L642.1 86.92L643.3 88.44L644.4 89.94L645.5 91.38L646.6 92.77L647.8 94.14L648.9 95.49L650.0 96.83L651.1 98.15L652.3 99.48L653.4 100.81L654.5 102.15" fill="none" stroke="#222" stroke-width="0.62"/>
<path d="M474.70 129.40L475.8 128.26L476.9 127.14L478.1 126.04L479.2 124.93L480.3 123.79L481.4 122.63L482.6 121.41L483.7 120.14L484.8 118.78L485.9 117.34L487.1 115.86L488.2 114.34L489.3 112.81L490.4 111.29L491.6 109.80L492.7 108.36L493.8 106.95L494.9 105.54L496.1 104.15L497.2 102.77L498.3 101.42L499.4 100.10L500.5 98.81L501.7 97.58L502.8 96.39L503.9 95.23L505.0 94.10L506.2 93.01L507.3 91.95L508.4 90.93L509.5 89.95L510.7 89.00L511.8 88.09L512.9 87.22L514.0 86.38L515.2 85.58L516.3 84.81L517.4 84.08L518.5 83.37L519.6 82.69L520.8 82.04L521.9 81.42L523.0 80.83L524.1 80.28L525.3 79.75L526.4 79.24L527.5 78.75L528.6 78.29L529.8 77.84L530.9 77.42L532.0 77.03L533.1 76.66L534.3 76.30L535.4 75.97L536.5 75.65L537.6 75.34L538.8 75.04L539.9 74.77L541.0 74.51L542.1 74.27L543.2 74.04L544.4 73.82L545.5 73.62L546.6 73.42L547.7 73.23L548.9 73.05L550.0 72.89L551.1 72.74L552.2 72.59L553.4 72.46L554.5 72.33L555.6 72.20L556.7 72.08L557.9 71.97L559.0 71.87L560.1 71.78L561.2 71.69L562.4 71.60L563.5 71.52L564.6 71.44L565.7 71.37L566.8 71.30L568.0 71.24L569.1 71.18L570.2 71.13L571.3 71.08L572.5 71.03L573.6 70.98L574.7 70.94L575.8 70.90L577.0 70.86L578.1 70.83L579.2 70.80L580.3 70.76L581.5 70.74L582.6 70.71L583.7 70.68L584.8 70.66L586.0 70.64L587.1 70.62L588.2 70.60L589.3 70.58L590.4 70.56L591.6 70.55L592.7 70.53L593.8 70.52L594.9 70.50L596.1 70.49L597.2 70.48L598.3 70.47L599.4 70.46L600.6 70.45L601.7 70.44L602.8 70.43L603.9 70.43L605.1 70.42L606.2 70.41L607.3 70.41L608.4 70.40L609.5 70.40L610.7 70.39L611.8 70.39L612.9 70.38L614.0 70.38L615.2 70.37L616.3 70.37L617.4 70.37L618.5 70.37L619.7 70.36L620.8 70.36L621.9 70.36L623.0 70.36L624.2 70.35L625.3 70.35L626.4 70.35L627.5 70.35L628.7 70.28L629.8 70.13L630.9 69.94L632.0 69.76L633.1 69.66L634.3 69.69L635.4 69.90L636.5 70.34L637.6 71.03L638.8 71.94L639.9 73.02L641.0 74.23L642.1 75.53L643.3 76.89L644.4 78.26L645.5 79.60L646.6 80.95L647.8 82.36L648.9 83.83L650.0 85.33L651.1 86.85L652.3 88.37L653.4 89.88L654.5 91.37" fill="none" stroke="#222" stroke-width="0.62"/>
<path d="M474.70 129.40L475.8 128.26L476.9 127.14L478.1 126.04L479.2 124.93L480.3 123.79L481.4 122.63L482.6 121.41L483.7 120.14L484.8 118.78L485.9 117.34L487.1 115.86L488.2 114.34L489.3 112.81L490.4 111.29L491.6 109.80L492.7 108.36L493.8 106.95L494.9 105.54L496.1 104.15L497.2 102.77L498.3 101.42L499.4 100.10L500.5 98.81L501.7 97.58L502.8 96.39L503.9 95.23L505.0 94.10L506.2 93.01L507.3 91.95L508.4 90.93L509.5 89.95L510.7 89.00L511.8 88.09L512.9 87.21L514.0 86.38L515.2 85.58L516.3 84.81L517.4 84.08L518.5 83.37L519.6 82.69L520.8 82.03L521.9 81.42L523.0 80.83L524.1 80.28L525.3 79.75L526.4 79.24L527.5 78.75L528.6 78.29L529.8 77.84L530.9 77.42L532.0 77.03L533.1 76.66L534.3 76.30L535.4 75.97L536.5 75.65L537.6 75.34L538.8 75.04L539.9 74.77L541.0 74.51L542.1 74.27L543.2 74.04L544.4 73.82L545.5 73.62L546.6 73.42L547.7 73.23L548.9 73.05L550.0 72.89L551.1 72.74L552.2 72.59L553.4 72.45L554.5 72.32L555.6 72.20L556.7 72.08L557.9 71.97L559.0 71.87L560.1 71.77L561.2 71.68L562.4 71.60L563.5 71.52L564.6 71.44L565.7 71.37L566.8 71.30L568.0 71.24L569.1 71.18L570.2 71.13L571.3 71.08L572.5 71.03L573.6 70.98L574.7 70.94L575.8 70.90L577.0 70.86L578.1 70.83L579.2 70.79L580.3 70.76L581.5 70.73L582.6 70.71L583.7 70.68L584.8 70.66L586.0 70.63L587.1 70.61L588.2 70.60L589.3 70.58L590.4 70.56L591.6 70.54L592.7 70.53L593.8 70.51L594.9 70.50L596.1 70.49L597.2 70.48L598.3 70.47L599.4 70.46L600.6 70.45L601.7 70.44L602.8 70.43L603.9 70.42L605.1 70.42L606.2 70.41L607.3 70.41L608.4 70.40L609.5 70.39L610.7 70.39L611.8 70.39L612.9 70.38L614.0 70.38L615.2 70.37L616.3 70.37L617.4 70.37L618.5 70.36L619.7 70.36L620.8 70.36L621.9 70.36L623.0 70.35L624.2 70.35L625.3 70.35L626.4 70.35L627.5 70.35L628.7 70.35L629.8 70.34L630.9 70.34L632.0 70.34L633.1 70.34L634.3 70.34L635.4 70.34L636.5 70.34L637.6 70.27L638.8 70.12L639.9 69.93L641.0 69.76L642.1 69.65L643.3 69.68L644.4 69.89L645.5 70.33L646.6 71.05L647.8 72.00L648.9 73.13L650.0 74.38L651.1 75.71L652.3 77.06L653.4 78.37L654.5 79.59" fill="none" stroke="#222" stroke-width="0.62"/>
<path d="M474.70 129.40L475.8 128.26L476.9 127.14L478.1 126.04L479.2 124.92L480.3 123.79L481.4 122.63L482.6 121.41L483.7 120.14L484.8 118.78L485.9 117.34L487.1 115.86L488.2 114.34L489.3 112.81L490.4 111.29L491.6 109.80L492.7 108.36L493.8 106.95L494.9 105.54L496.1 104.15L497.2 102.77L498.3 101.42L499.4 100.10L500.5 98.81L501.7 97.58L502.8 96.38L503.9 95.23L505.0 94.10L506.2 93.01L507.3 91.95L508.4 90.93L509.5 89.95L510.7 89.00L511.8 88.09L512.9 87.21L514.0 86.38L515.2 85.58L516.3 84.81L517.4 84.08L518.5 83.37L519.6 82.69L520.8 82.03L521.9 81.42L523.0 80.83L524.1 80.28L525.3 79.75L526.4 79.24L527.5 78.75L528.6 78.29L529.8 77.84L530.9 77.42L532.0 77.03L533.1 76.66L534.3 76.30L535.4 75.97L536.5 75.64L537.6 75.33L538.8 75.04L539.9 74.77L541.0 74.51L542.1 74.27L543.2 74.04L544.4 73.82L545.5 73.61L546.6 73.42L547.7 73.23L548.9 73.05L550.0 72.89L551.1 72.73L552.2 72.59L553.4 72.45L554.5 72.32L555.6 72.20L556.7 72.08L557.9 71.97L559.0 71.87L560.1 71.77L561.2 71.68L562.4 71.60L563.5 71.52L564.6 71.44L565.7 71.37L566.8 71.30L568.0 71.24L569.1 71.18L570.2 71.13L571.3 71.08L572.5 71.03L573.6 70.98L574.7 70.94L575.8 70.90L577.0 70.86L578.1 70.83L579.2 70.79L580.3 70.76L581.5 70.73L582.6 70.71L583.7 70.68L584.8 70.66L586.0 70.63L587.1 70.61L588.2 70.59L589.3 70.58L590.4 70.56L591.6 70.54L592.7 70.53L593.8 70.51L594.9 70.50L596.1 70.49L597.2 70.48L598.3 70.47L599.4 70.46L600.6 70.45L601.7 70.44L602.8 70.43L603.9 70.42L605.1 70.42L606.2 70.41L607.3 70.40L608.4 70.40L609.5 70.39L610.7 70.39L611.8 70.38L612.9 70.38L614.0 70.38L615.2 70.37L616.3 70.37L617.4 70.37L618.5 70.36L619.7 70.36L620.8 70.36L621.9 70.36L623.0 70.35L624.2 70.35L625.3 70.35L626.4 70.35L627.5 70.35L628.7 70.34L629.8 70.34L630.9 70.34L632.0 70.34L633.1 70.34L634.3 70.34L635.4 70.34L636.5 70.34L637.6 70.34L638.8 70.33L639.9 70.33L641.0 70.33L642.1 70.33L643.3 70.33L644.4 70.33L645.5 70.33L646.6 70.33L647.8 70.33L648.9 70.33L650.0 70.33L651.1 70.33L652.3 70.33L653.4 70.33L654.5 70.33" fill="none" stroke="#222" stroke-width="0.62"/>
<path d="M474.70 129.40L475.8 128.26L476.9 127.14L478.1 126.03L479.2 124.91L480.3 123.78L481.4 122.62L482.6 121.41L483.7 120.14L484.8 118.79L485.9 117.37L487.1 115.90L488.2 114.40L489.3 112.89L490.4 111.39L491.6 109.93L492.7 108.52L493.8 107.14L494.9 105.77L496.1 104.42L497.2 103.09L498.3 101.78L499.4 100.51L500.5 99.29L501.7 98.11L502.8 96.97L503.9 95.88L505.0 94.82L506.2 93.79L507.3 92.81L508.4 91.86L509.5 90.95L510.7 90.08L511.8 89.25L512.9 88.46L514.0 87.71L515.2 87.00L516.3 86.33L517.4 85.68L518.5 85.07L519.6 84.48L520.8 83.92L521.9 83.41L523.0 82.92L524.1 82.47L525.3 82.04L526.4 81.64L527.5 81.26L528.6 80.90L529.8 80.56L530.9 80.25L532.0 79.97L533.1 79.70L534.3 79.46L535.4 79.24L536.5 79.03L537.6 78.84L538.8 78.66L539.9 78.50L541.0 78.36L542.1 78.24L543.2 78.13L544.4 78.03L545.5 77.95L546.6 77.87L547.7 77.80L548.9 77.74L550.0 77.70L551.1 77.67L552.2 77.65L553.4 77.64L554.5 77.63L555.6 77.63L556.7 77.63L557.9 77.65L559.0 77.67L560.1 77.70L561.2 77.74L562.4 77.78L563.5 77.83L564.6 77.87L565.7 77.93L566.8 77.99L568.0 78.05L569.1 78.12L570.2 78.19L571.3 78.27L572.5 78.35L573.6 78.43L574.7 78.51L575.8 78.60L577.0 78.69L578.1 78.78L579.2 78.88L580.3 78.97L581.5 79.07L582.6 79.17L583.7 79.28L584.8 79.38L586.0 79.49L587.1 79.59L588.2 79.70L589.3 79.81L590.4 79.93L591.6 80.04L592.7 80.15L593.8 80.27L594.9 80.38L596.1 80.50L597.2 80.62L598.3 80.74L599.4 80.85L600.6 80.97L601.7 81.09L602.8 81.21L603.9 81.34L605.1 81.46L606.2 81.58L607.3 81.70L608.4 81.83L609.5 81.95L610.7 82.08L611.8 82.20L612.9 82.32L614.0 82.45L615.2 82.58L616.3 82.70L617.4 82.83L618.5 82.95L619.7 83.08L620.8 83.21L621.9 83.33L623.0 83.46L624.2 83.59L625.3 83.71L626.4 83.84L627.5 83.97L628.7 84.10L629.8 84.22L630.9 84.35L632.0 84.48L633.1 84.61L634.3 84.74L635.4 84.86L636.5 84.99L637.6 85.12L638.8 85.25L639.9 85.38L641.0 85.51L642.1 85.64L643.3 85.76L644.4 85.89L645.5 86.02L646.6 86.15L647.8 86.28L648.9 86.41L650.0 86.54L651.1 86.67L652.3 86.79L653.4 86.92L654.5 87.05" fill="none" stroke="#3cb4c4" stroke-width="1.9"/>
<path d="M474.70 129.40L475.8 128.26L476.9 127.14L478.1 126.04L479.2 124.92L480.3 123.79L481.4 122.63L482.6 121.41L483.7 120.14L484.8 118.78L485.9 117.34L487.1 115.86L488.2 114.34L489.3 112.81L490.4 111.29L491.6 109.80L492.7 108.36L493.8 106.95L494.9 105.54L496.1 104.14L497.2 102.77L498.3 101.41L499.4 100.09L500.5 98.81L501.7 97.58L502.8 96.38L503.9 95.22L505.0 94.10L506.2 93.01L507.3 91.95L508.4 90.93L509.5 89.94L510.7 88.99L511.8 88.08L512.9 87.21L514.0 86.38L515.2 85.58L516.3 84.81L517.4 84.07L518.5 83.37L519.6 82.68L520.8 82.03L521.9 81.42L523.0 80.83L524.1 80.27L525.3 79.74L526.4 79.24L527.5 78.75L528.6 78.28L529.8 77.84L530.9 77.42L532.0 77.03L533.1 76.65L534.3 76.30L535.4 75.96L536.5 75.64L537.6 75.33L538.8 75.04L539.9 74.76L541.0 74.51L542.1 74.27L543.2 74.04L544.4 73.82L545.5 73.61L546.6 73.41L547.7 73.23L548.9 73.05L550.0 72.89L551.1 72.73L552.2 72.59L553.4 72.45L554.5 72.32L555.6 72.20L556.7 72.08L557.9 71.97L559.0 71.87L560.1 71.77L561.2 71.68L562.4 71.60L563.5 71.52L564.6 71.44L565.7 71.37L566.8 71.30L568.0 71.24L569.1 71.18L570.2 71.13L571.3 71.08L572.5 71.03L573.6 70.98L574.7 70.94L575.8 70.90L577.0 70.86L578.1 70.82L579.2 70.79L580.3 70.76L581.5 70.73L582.6 70.70L583.7 70.68L584.8 70.65L586.0 70.63L587.1 70.61L588.2 70.59L589.3 70.57L590.4 70.56L591.6 70.54L592.7 70.53L593.8 70.51L594.9 70.50L596.1 70.49L597.2 70.48L598.3 70.47L599.4 70.46L600.6 70.45L601.7 70.44L602.8 70.43L603.9 70.42L605.1 70.42L606.2 70.41L607.3 70.40L608.4 70.40L609.5 70.39L610.7 70.39L611.8 70.38L612.9 70.38L614.0 70.37L615.2 70.37L616.3 70.37L617.4 70.36L618.5 70.36L619.7 70.36L620.8 70.36L621.9 70.35L623.0 70.35L624.2 70.35L625.3 70.35L626.4 70.35L627.5 70.34L628.7 70.34L629.8 70.34L630.9 70.34L632.0 70.34L633.1 70.34L634.3 70.34L635.4 70.34L636.5 70.33L637.6 70.33L638.8 70.33L639.9 70.33L641.0 70.33L642.1 70.33L643.3 70.33L644.4 70.33L645.5 70.33L646.6 70.33L647.8 70.33L648.9 70.33L650.0 70.33L651.1 70.33L652.3 70.33L653.4 70.33L654.5 70.33" fill="none" stroke="#000" stroke-width="1.9"/>
<path d="M474.70 129.40L475.8 128.26L476.9 127.15L478.1 126.04L479.2 124.94L480.3 123.81L481.4 122.64L482.6 121.42L483.7 120.14L484.8 118.76L485.9 117.32L487.1 115.81L488.2 114.27L489.3 112.72L490.4 111.17L491.6 109.65L492.7 108.17L493.8 106.72L494.9 105.27L496.1 103.83L497.2 102.40L498.3 100.99L499.4 99.61L500.5 98.27L501.7 96.97L502.8 95.70L503.9 94.47L505.0 93.27L506.2 92.10L507.3 90.96L508.4 89.85L509.5 88.78L510.7 87.74L511.8 86.73L512.9 85.76L514.0 84.83L515.2 83.92L516.3 83.05L517.4 82.21L518.5 81.39L519.6 80.59L520.8 79.83L521.9 79.09L523.0 78.39L524.1 77.71L525.3 77.06L526.4 76.42L527.5 75.81L528.6 75.22L529.8 74.64L530.9 74.09L532.0 73.56L533.1 73.06L534.3 72.57L535.4 72.09L536.5 71.63L537.6 71.18L538.8 70.75L539.9 70.33L541.0 69.93L542.1 69.54L543.2 69.17L544.4 68.80L545.5 68.45L546.6 68.10L547.7 67.76L548.9 67.43L550.0 67.12L551.1 66.81L552.2 66.51L553.4 66.22L554.5 65.94L555.6 65.65L556.7 65.38L557.9 65.11L559.0 64.85L560.1 64.60L561.2 64.35L562.4 64.10L563.5 63.86L564.6 63.62L565.7 63.39L566.8 63.16L568.0 62.93L569.1 62.71L570.2 62.49L571.3 62.28L572.5 62.06L573.6 61.85L574.7 61.64L575.8 61.43L577.0 61.22L578.1 61.02L579.2 60.82L580.3 60.62L581.5 60.42L582.6 60.22L583.7 60.02L584.8 59.83L586.0 59.63L587.1 59.44L588.2 59.25L589.3 59.06L590.4 58.87L591.6 58.67L592.7 58.48L593.8 58.29L594.9 58.11L596.1 57.92L597.2 57.73L598.3 57.54L599.4 57.35L600.6 57.17L601.7 56.98L602.8 56.79L603.9 56.60L605.1 56.42L606.2 56.23L607.3 56.04L608.4 55.85L609.5 55.67L610.7 55.48L611.8 55.29L612.9 55.10L614.0 54.91L615.2 54.73L616.3 54.54L617.4 54.35L618.5 54.16L619.7 53.97L620.8 53.78L621.9 53.59L623.0 53.40L624.2 53.21L625.3 53.02L626.4 52.83L627.5 52.64L628.7 52.45L629.8 52.25L630.9 52.06L632.0 51.87L633.1 51.68L634.3 51.48L635.4 51.29L636.5 51.09L637.6 50.90L638.8 50.70L639.9 50.51L641.0 50.31L642.1 50.11L643.3 49.92L644.4 49.72L645.5 49.52L646.6 49.32L647.8 49.12L648.9 48.92L650.0 48.72L651.1 48.52L652.3 48.32L653.4 48.12L654.5 47.92" fill="none" stroke="#d62728" stroke-width="1.9"/>
<line x1="14.3" y1="182.65" x2="25.9" y2="182.65" stroke="#555" stroke-width="1.35"/>
<text x="32.5" y="185.8" font-size="9.9" fill="#303030" font-family="Liberation Sans, sans-serif">Window of disturbance</text>
<line x1="149.1" y1="182.65" x2="160.9" y2="182.65" stroke="#000" stroke-width="2.0"/>
<text x="165.5" y="185.8" font-size="9.9" fill="#303030" font-family="Liberation Sans, sans-serif">Cumulative disturbance (constant)</text>
<line x1="332.2" y1="182.65" x2="343.9" y2="182.65" stroke="#d62728" stroke-width="2.0"/>
<text x="350.2" y="185.8" font-size="9.9" fill="#303030" font-family="Liberation Sans, sans-serif">Cumulative disturbance (increase)</text>
<line x1="515.0" y1="182.65" x2="526.9" y2="182.65" stroke="#3cb4c4" stroke-width="2.0"/>
<text x="532.9" y="185.8" font-size="9.9" fill="#303030" font-family="Liberation Sans, sans-serif">Cumulative disturbance (decrease)</text>
<path d="M45.5 225.4H413.6V338.3" fill="none" stroke="#4a4a4a" stroke-width="1"/>
<path d="M45.5 225.4V338.3H413.6" fill="none" stroke="#4a4a4a" stroke-width="1"/>
<line x1="41.4" y1="225.47" x2="45.5" y2="225.47" stroke="#4a4a4a" stroke-width="1"/>
<text x="34.9" y="230.97" font-size="9.6" text-anchor="end" fill="#303030" font-family="Liberation Sans, sans-serif">10</text>
<text x="34.9" y="226.07" font-size="5.8" fill="#303030" font-family="Liberation Sans, sans-serif">1</text>
<line x1="41.4" y1="263.10" x2="45.5" y2="263.10" stroke="#4a4a4a" stroke-width="1"/>
<text x="33.3" y="268.60" font-size="9.6" text-anchor="end" fill="#303030" font-family="Liberation Sans, sans-serif">10</text>
<text x="33.6" y="263.70" font-size="5.8" fill="#303030" font-family="Liberation Sans, sans-serif">0</text>
<line x1="41.4" y1="300.73" x2="45.5" y2="300.73" stroke="#4a4a4a" stroke-width="1"/>
<text x="30.7" y="306.23" font-size="9.6" text-anchor="end" fill="#303030" font-family="Liberation Sans, sans-serif">10</text>
<text x="30.6" y="301.33" font-size="5.8" fill="#303030" font-family="Liberation Sans, sans-serif">−1</text>
<line x1="41.4" y1="338.36" x2="45.5" y2="338.36" stroke="#4a4a4a" stroke-width="1"/>
<text x="30.0" y="343.86" font-size="9.6" text-anchor="end" fill="#303030" font-family="Liberation Sans, sans-serif">10</text>
<text x="30.1" y="338.96" font-size="5.8" fill="#303030" font-family="Liberation Sans, sans-serif">−2</text>
<line x1="79.45" y1="338.3" x2="79.45" y2="342.2" stroke="#4a4a4a" stroke-width="1"/>
<rect x="62.10" y="236.80" width="10.7" height="101.50" fill="#d95f02"/>
<rect x="74.10" y="254.80" width="10.7" height="83.50" fill="#1b9e77"/>
<rect x="86.10" y="243.20" width="10.7" height="95.10" fill="#555555"/>
<path d="M64.95 235.2H69.95M67.45 235.2V238.3M64.95 238.3H69.95" stroke="#999" stroke-width="0.8" fill="none"/>
<path d="M76.95 253.4H81.95M79.45 253.4V255.8M76.95 255.8H81.95" stroke="#999" stroke-width="0.8" fill="none"/>
<path d="M88.95 241.2H93.95M91.45 241.2V245.5M88.95 245.5H93.95" stroke="#999" stroke-width="0.8" fill="none"/>
<text x="79.45" y="353.90" font-size="10" text-anchor="middle" fill="#303030" font-family="Liberation Sans, sans-serif">Africa</text>
<line x1="139.45" y1="338.3" x2="139.45" y2="342.2" stroke="#4a4a4a" stroke-width="1"/>
<rect x="122.10" y="263.00" width="10.7" height="75.30" fill="#d95f02"/>
<rect x="134.10" y="279.40" width="10.7" height="58.90" fill="#1b9e77"/>
<rect x="146.10" y="270.80" width="10.7" height="67.50" fill="#555555"/>
<path d="M124.95 260.3H129.95M127.45 260.3V266.3M124.95 266.3H129.95" stroke="#999" stroke-width="0.8" fill="none"/>
<path d="M136.95 276.4H141.95M139.45 276.4V283.4M136.95 283.4H141.95" stroke="#999" stroke-width="0.8" fill="none"/>
<path d="M148.95 267.2H153.95M151.45 267.2V274.5M148.95 274.5H153.95" stroke="#999" stroke-width="0.8" fill="none"/>
<text x="139.45" y="353.90" font-size="10" text-anchor="middle" fill="#303030" font-family="Liberation Sans, sans-serif">Asia</text>
<line x1="199.45" y1="338.3" x2="199.45" y2="342.2" stroke="#4a4a4a" stroke-width="1"/>
<rect x="182.10" y="307.50" width="10.7" height="30.80" fill="#d95f02"/>
<rect x="194.10" y="328.60" width="10.7" height="9.70" fill="#1b9e77"/>
<rect x="206.10" y="313.20" width="10.7" height="25.10" fill="#555555"/>
<path d="M184.95 305.0H189.95M187.45 305.0V310.4M184.95 310.4H189.95" stroke="#999" stroke-width="0.8" fill="none"/>
<path d="M196.95 324.4H201.95M199.45 324.4V333.8M196.95 333.8H201.95" stroke="#999" stroke-width="0.8" fill="none"/>
<path d="M208.95 310.4H213.95M211.45 310.4V316.3M208.95 316.3H213.95" stroke="#999" stroke-width="0.8" fill="none"/>
<text x="199.45" y="353.90" font-size="10" text-anchor="middle" fill="#303030" font-family="Liberation Sans, sans-serif">Europe</text>
<line x1="259.45" y1="338.3" x2="259.45" y2="342.2" stroke="#4a4a4a" stroke-width="1"/>
<rect x="242.10" y="283.50" width="10.7" height="54.80" fill="#d95f02"/>
<rect x="254.10" y="296.90" width="10.7" height="41.40" fill="#1b9e77"/>
<rect x="266.10" y="292.90" width="10.7" height="45.40" fill="#555555"/>
<path d="M244.95 280.3H249.95M247.45 280.3V287.5M244.95 287.5H249.95" stroke="#999" stroke-width="0.8" fill="none"/>
<path d="M256.95 293.2H261.95M259.45 293.2V302.6M256.95 302.6H261.95" stroke="#999" stroke-width="0.8" fill="none"/>
<path d="M268.95 289.7H273.95M271.45 289.7V296.3M268.95 296.3H273.95" stroke="#999" stroke-width="0.8" fill="none"/>
<text x="259.45" y="353.90" font-size="10" text-anchor="middle" fill="#303030" font-family="Liberation Sans, sans-serif">North</text>
<text x="259.45" y="365.70" font-size="10" text-anchor="middle" fill="#303030" font-family="Liberation Sans, sans-serif">America</text>
<line x1="319.45" y1="338.3" x2="319.45" y2="342.2" stroke="#4a4a4a" stroke-width="1"/>
<rect x="302.10" y="266.00" width="10.7" height="72.30" fill="#d95f02"/>
<rect x="314.10" y="277.90" width="10.7" height="60.40" fill="#1b9e77"/>
<rect x="326.10" y="276.90" width="10.7" height="61.40" fill="#555555"/>
<path d="M304.95 264.0H309.95M307.45 264.0V268.5M304.95 268.5H309.95" stroke="#999" stroke-width="0.8" fill="none"/>
<path d="M316.95 277.1H321.95M319.45 277.1V278.6M316.95 278.6H321.95" stroke="#999" stroke-width="0.8" fill="none"/>
<path d="M328.95 273.3H333.95M331.45 273.3V281.3M328.95 281.3H333.95" stroke="#999" stroke-width="0.8" fill="none"/>
<text x="319.45" y="353.90" font-size="10" text-anchor="middle" fill="#303030" font-family="Liberation Sans, sans-serif">Oceania</text>
<line x1="379.45" y1="338.3" x2="379.45" y2="342.2" stroke="#4a4a4a" stroke-width="1"/>
<rect x="362.10" y="264.40" width="10.7" height="73.90" fill="#d95f02"/>
<rect x="374.10" y="275.90" width="10.7" height="62.40" fill="#1b9e77"/>
<rect x="386.10" y="275.80" width="10.7" height="62.50" fill="#555555"/>
<path d="M364.95 261.3H369.95M367.45 261.3V267.5M364.95 267.5H369.95" stroke="#999" stroke-width="0.8" fill="none"/>
<path d="M376.95 273.2H381.95M379.45 273.2V278.8M376.95 278.8H381.95" stroke="#999" stroke-width="0.8" fill="none"/>
<path d="M388.95 270.3H393.95M391.45 270.3V282.6M388.95 282.6H393.95" stroke="#999" stroke-width="0.8" fill="none"/>
<text x="379.45" y="353.90" font-size="10" text-anchor="middle" fill="#303030" font-family="Liberation Sans, sans-serif">South</text>
<text x="379.45" y="365.70" font-size="10" text-anchor="middle" fill="#303030" font-family="Liberation Sans, sans-serif">America</text>
<text x="229.6" y="380.3" font-size="11.7" text-anchor="middle" fill="#303030" font-family="Liberation Sans, sans-serif">Continent</text>
<text transform="translate(11.6 281.8) rotate(-90)" x="0" y="0" font-size="11.45" text-anchor="middle" fill="#303030" font-family="Liberation Sans, sans-serif">log soil erosion (Pg yr<tspan font-size="7" dy="-4.3">−1</tspan><tspan dy="4.3">)</tspan></text>
<text x="0.2" y="213.6" font-size="17" font-weight="bold" fill="#000" stroke="#000" stroke-width="0.5" font-family="Liberation Sans, sans-serif">d</text>
<rect x="194.1" y="389.1" width="9.7" height="9.7" fill="#d95f02"/>
<text x="209.5" y="396.2" font-size="9.9" fill="#303030" font-family="Liberation Sans, sans-serif">Post-fire erosion</text>
<rect x="296.2" y="389.1" width="9.7" height="9.7" fill="#1b9e77"/>
<text x="312.2" y="396.2" font-size="9.9" fill="#303030" font-family="Liberation Sans, sans-serif">Background erosion</text>
<rect x="415.3" y="389.1" width="9.7" height="9.7" fill="#555555"/>
<text x="430.9" y="396.2" font-size="9.9" fill="#303030" font-family="Liberation Sans, sans-serif">Additional erosion</text>
<path d="M475.0 225.4H658.6V338.3" fill="none" stroke="#4a4a4a" stroke-width="1"/>
<path d="M475.0 225.4V338.3H658.6" fill="none" stroke="#4a4a4a" stroke-width="1"/>
<line x1="470.6" y1="310.20" x2="475.0" y2="310.20" stroke="#4a4a4a" stroke-width="1"/>
<text x="466.6" y="313.80" font-size="10" text-anchor="end" fill="#303030" font-family="Liberation Sans, sans-serif">2.5</text>
<line x1="470.6" y1="281.90" x2="475.0" y2="281.90" stroke="#4a4a4a" stroke-width="1"/>
<text x="466.6" y="285.50" font-size="10" text-anchor="end" fill="#303030" font-family="Liberation Sans, sans-serif">5.0</text>
<line x1="470.6" y1="253.60" x2="475.0" y2="253.60" stroke="#4a4a4a" stroke-width="1"/>
<text x="466.6" y="257.20" font-size="10" text-anchor="end" fill="#303030" font-family="Liberation Sans, sans-serif">7.5</text>
<line x1="470.6" y1="225.30" x2="475.0" y2="225.30" stroke="#4a4a4a" stroke-width="1"/>
<text x="466.6" y="228.90" font-size="10" text-anchor="end" fill="#303030" font-family="Liberation Sans, sans-serif">10.0</text>
<rect x="501.0" y="246.8" width="39.70" height="91.50" fill="#d95f02"/>
<rect x="546.9" y="303.9" width="39.90" height="34.40" fill="#1b9e77"/>
<rect x="593.2" y="281.1" width="39.40" height="57.20" fill="#555555"/>
<path d="M511.15 238.5H530.55M520.85 238.5V255.0M511.15 255.0H530.55" stroke="#999" stroke-width="0.8" fill="none"/>
<path d="M557.15 300.3H576.55M566.85 300.3V307.8M557.15 307.8H576.55" stroke="#999" stroke-width="0.8" fill="none"/>
<path d="M603.20 274.8H622.60M612.90 274.8V287.5M603.20 287.5H622.60" stroke="#999" stroke-width="0.8" fill="none"/>
<line x1="566.6" y1="338.3" x2="566.6" y2="342.0" stroke="#4a4a4a" stroke-width="1"/>
<text x="566.5" y="356.3" font-size="11.5" text-anchor="middle" fill="#303030" font-family="Liberation Sans, sans-serif">Global</text>
<text transform="translate(440.3 281.6) rotate(-90)" x="0" y="0" font-size="11.3" text-anchor="middle" fill="#303030" font-family="Liberation Sans, sans-serif">Soil erosion (Pg yr<tspan font-size="7" dy="-4.3">−1</tspan><tspan dy="4.3">)</tspan></text>
<text x="428.7" y="213.6" font-size="17" font-weight="bold" fill="#000" stroke="#000" stroke-width="0.5" font-family="Liberation Sans, sans-serif">e</text>
</svg></body></html>
